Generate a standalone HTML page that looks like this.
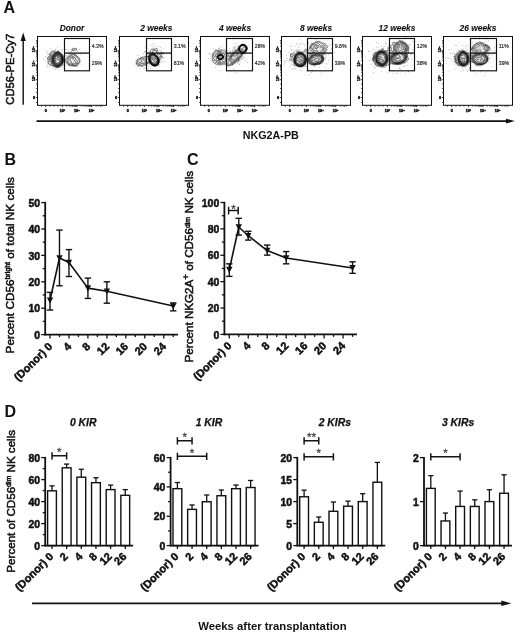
<!DOCTYPE html>
<html><head><meta charset="utf-8"><title>Figure</title><style>
html,body{margin:0;padding:0;background:#fff;}
body{width:520px;height:633px;overflow:hidden;}
svg{display:block;will-change:transform;}
text{font-family:"Liberation Sans", sans-serif;fill:#111;}
.pl{font-size:16px;font-weight:bold;}
.ft{font-size:8.4px;font-weight:bold;font-style:italic;text-anchor:middle;stroke:#111;stroke-width:0.1px;}
.bt{font-size:10.4px;font-weight:bold;font-style:italic;stroke:#111;stroke-width:0.25px;}
.pc{font-size:5.2px;fill:#222;stroke:#222;stroke-width:0.15px;}
.tl{font-size:3.7px;font-weight:bold;fill:#111;stroke:#111;stroke-width:0.4px;}
.at{font-size:10.7px;stroke:#111;stroke-width:0.5px;}
.at2{font-size:10.8px;font-weight:bold;}
.sup{font-size:6.4px;}
.sup2{font-size:9px;}
.yl{font-size:10.4px;font-weight:bold;text-anchor:end;stroke:#111;stroke-width:0.5px;}
.xl{font-size:11px;font-weight:bold;text-anchor:end;stroke:#111;stroke-width:0.5px;}
.st{font-size:11.5px;fill:#444;text-anchor:middle;stroke:#444;stroke-width:0.3px;}
.ax{stroke:#111;stroke-width:1.8;}
.tk{stroke:#111;stroke-width:1.3;}
</style></head><body>
<svg width="520" height="633" viewBox="0 0 520 633">
<defs><filter id="blur" x="-50%" y="-50%" width="200%" height="200%"><feGaussianBlur stdDeviation="1.1"/></filter><filter id="speck" x="-50%" y="-50%" width="200%" height="200%"><feGaussianBlur in="SourceGraphic" stdDeviation="1.6" result="b"/><feTurbulence type="fractalNoise" baseFrequency="0.75" numOctaves="2" seed="7" result="n"/><feColorMatrix in="n" type="matrix" values="0 0 0 0 0  0 0 0 0 0  0 0 0 0 0  3.2 0 0 0 -1.0" result="na"/><feComposite in="b" in2="na" operator="in"/></filter></defs>
<rect width="520" height="633" fill="#fff"/>
<text x="3.6" y="12.6" class="pl">A</text>
<text x="4.5" y="165.3" class="pl">B</text>
<text x="186.9" y="165.2" class="pl">C</text>
<text x="4.4" y="417.1" class="pl">D</text>
<line x1="23.2" y1="104.7" x2="23.2" y2="39" stroke="#111" stroke-width="1.4"/>
<polygon points="20.6,40.9 25.8,40.9 23.2,32.4" fill="#111"/>
<text x="0" y="0" class="at" style="font-size:11.2px;stroke-width:0.55px" transform="translate(13.8 69.3) rotate(-90)" text-anchor="middle" textLength="70.8" lengthAdjust="spacingAndGlyphs">CD56-PE-Cy7</text>
<line x1="36.5" y1="121.1" x2="507" y2="121.1" stroke="#111" stroke-width="1.8"/>
<polygon points="506,118.8 506,123.4 514.8,121.1" fill="#111"/>
<text x="242.8" y="138.6" class="at2" textLength="56" lengthAdjust="spacingAndGlyphs">NKG2A-PB</text>
<text x="72.00" y="30.6" class="ft">Donor</text>
<ellipse cx="55.5" cy="59.5" rx="7.5" ry="8.5" fill="#b0b0b0" filter="url(#speck)" transform="rotate(0 55.5 59.5)"/><ellipse cx="72.5" cy="60.5" rx="7" ry="6" fill="#d0d0d0" filter="url(#speck)" transform="rotate(0 72.5 60.5)"/><g fill="#555"><circle cx="57.8" cy="50.6" r="0.35"/><circle cx="58.0" cy="50.7" r="0.35"/><circle cx="64.3" cy="57.3" r="0.35"/><circle cx="64.4" cy="61.7" r="0.35"/><circle cx="50.5" cy="64.8" r="0.35"/><circle cx="67.7" cy="49.8" r="0.35"/><circle cx="73.2" cy="65.3" r="0.35"/><circle cx="55.5" cy="69.7" r="0.35"/><circle cx="57.6" cy="52.0" r="0.35"/><circle cx="53.6" cy="51.2" r="0.35"/><circle cx="48.2" cy="54.0" r="0.35"/><circle cx="77.7" cy="63.3" r="0.35"/><circle cx="66.7" cy="49.2" r="0.35"/><circle cx="74.8" cy="55.2" r="0.35"/><circle cx="71.3" cy="55.0" r="0.35"/><circle cx="56.4" cy="68.5" r="0.35"/><circle cx="47.6" cy="53.3" r="0.35"/><circle cx="65.3" cy="60.2" r="0.35"/><circle cx="51.3" cy="64.0" r="0.35"/><circle cx="62.8" cy="49.3" r="0.35"/><circle cx="75.9" cy="66.3" r="0.35"/><circle cx="77.8" cy="57.6" r="0.35"/><circle cx="77.2" cy="66.6" r="0.35"/><circle cx="77.0" cy="55.9" r="0.35"/><circle cx="60.0" cy="67.7" r="0.35"/><circle cx="64.2" cy="67.7" r="0.35"/><circle cx="69.2" cy="52.0" r="0.35"/><circle cx="70.4" cy="49.7" r="0.35"/><circle cx="77.4" cy="51.4" r="0.35"/><circle cx="66.2" cy="55.9" r="0.35"/><circle cx="62.3" cy="67.1" r="0.35"/><circle cx="45.9" cy="51.0" r="0.35"/><circle cx="80.0" cy="64.5" r="0.35"/><circle cx="68.4" cy="51.2" r="0.35"/><circle cx="72.7" cy="49.2" r="0.35"/><circle cx="74.2" cy="50.7" r="0.35"/><circle cx="79.1" cy="49.7" r="0.35"/><circle cx="49.5" cy="54.7" r="0.35"/><circle cx="77.2" cy="56.5" r="0.35"/><circle cx="47.3" cy="65.2" r="0.35"/><circle cx="71.7" cy="51.1" r="0.35"/><circle cx="63.3" cy="65.2" r="0.35"/><circle cx="72.1" cy="54.6" r="0.35"/><circle cx="74.3" cy="66.0" r="0.35"/><circle cx="61.8" cy="49.6" r="0.35"/><circle cx="47.9" cy="58.8" r="0.35"/><circle cx="47.3" cy="58.6" r="0.35"/><circle cx="58.0" cy="51.7" r="0.35"/><circle cx="71.3" cy="51.4" r="0.35"/><circle cx="69.3" cy="64.5" r="0.35"/><circle cx="60.2" cy="66.0" r="0.35"/><circle cx="74.5" cy="54.8" r="0.35"/><circle cx="72.9" cy="65.8" r="0.35"/><circle cx="66.0" cy="55.8" r="0.35"/><circle cx="50.2" cy="48.8" r="0.35"/><circle cx="58.6" cy="52.1" r="0.35"/><circle cx="48.1" cy="62.8" r="0.35"/><circle cx="68.7" cy="64.9" r="0.35"/><circle cx="63.0" cy="65.2" r="0.35"/><circle cx="62.3" cy="51.8" r="0.35"/><circle cx="79.9" cy="58.5" r="0.35"/><circle cx="79.9" cy="49.8" r="0.35"/><circle cx="75.8" cy="54.0" r="0.35"/><circle cx="76.1" cy="48.1" r="0.35"/><circle cx="80.2" cy="54.2" r="0.35"/><circle cx="78.0" cy="63.2" r="0.35"/><circle cx="47.4" cy="62.3" r="0.35"/><circle cx="72.0" cy="50.8" r="0.35"/><circle cx="68.0" cy="64.2" r="0.35"/><circle cx="43.2" cy="59.0" r="0.35"/><circle cx="76.4" cy="49.6" r="0.35"/><circle cx="49.9" cy="61.7" r="0.35"/><circle cx="73.0" cy="48.1" r="0.35"/><circle cx="72.1" cy="48.1" r="0.35"/><circle cx="47.8" cy="62.8" r="0.35"/><circle cx="79.8" cy="58.4" r="0.35"/><circle cx="72.8" cy="65.3" r="0.35"/><circle cx="65.0" cy="60.7" r="0.35"/><circle cx="63.6" cy="61.7" r="0.35"/><circle cx="63.5" cy="61.3" r="0.35"/><circle cx="59.1" cy="52.1" r="0.35"/><circle cx="67.4" cy="57.0" r="0.35"/><circle cx="68.1" cy="56.5" r="0.35"/><circle cx="55.2" cy="49.6" r="0.35"/><circle cx="70.5" cy="52.2" r="0.35"/><circle cx="47.7" cy="51.8" r="0.35"/><circle cx="64.0" cy="61.0" r="0.35"/><circle cx="73.7" cy="48.2" r="0.35"/><circle cx="48.7" cy="57.0" r="0.35"/><circle cx="75.9" cy="55.0" r="0.35"/><circle cx="45.2" cy="57.1" r="0.35"/><circle cx="55.2" cy="50.5" r="0.35"/><circle cx="74.2" cy="49.5" r="0.35"/><circle cx="73.0" cy="54.8" r="0.35"/><circle cx="69.8" cy="56.4" r="0.35"/><circle cx="57.2" cy="47.1" r="0.35"/><circle cx="74.0" cy="54.4" r="0.35"/><circle cx="75.3" cy="48.8" r="0.35"/><circle cx="79.0" cy="63.7" r="0.35"/><circle cx="51.8" cy="50.5" r="0.35"/><circle cx="74.0" cy="66.5" r="0.35"/><circle cx="65.2" cy="49.3" r="0.35"/><circle cx="69.9" cy="65.0" r="0.35"/><circle cx="50.8" cy="65.5" r="0.35"/><circle cx="74.0" cy="49.0" r="0.35"/><circle cx="53.5" cy="65.7" r="0.35"/><circle cx="74.4" cy="65.8" r="0.35"/><circle cx="45.1" cy="60.5" r="0.35"/><circle cx="69.0" cy="65.2" r="0.35"/><circle cx="74.8" cy="53.7" r="0.35"/><circle cx="49.3" cy="61.8" r="0.35"/><circle cx="47.2" cy="59.5" r="0.35"/><circle cx="50.9" cy="63.7" r="0.35"/><circle cx="48.6" cy="63.5" r="0.35"/><circle cx="48.1" cy="59.2" r="0.35"/><circle cx="45.5" cy="67.0" r="0.35"/><circle cx="47.7" cy="67.1" r="0.35"/><circle cx="67.2" cy="63.2" r="0.35"/><circle cx="45.3" cy="56.3" r="0.35"/><circle cx="58.8" cy="69.9" r="0.35"/></g><path fill="none" stroke="#000" stroke-width="0.45" d="M59.5 59.8 58.8 59.8 57.8 59.2 56.5 59.4 55.4 58.2 55.4 57.8 55.5 57.2 56.0 56.9 56.5 56.9 58.9 58.0 59.4 58.5 59.7 59.0 59.5 59.8Z M58.2 63.3 57.5 63.5 56.5 63.1 55.9 62.5 55.4 61.2 54.7 58.5 54.6 57.8 55.1 56.8 56.0 56.1 57.2 56.1 59.0 56.5 60.0 57.2 60.4 58.0 60.7 59.5 60.6 60.2 60.2 60.7 59.1 61.5 58.6 62.8 58.2 63.3Z M58.5 63.8 57.2 63.9 56.2 63.6 55.4 62.8 54.8 61.5 54.1 58.5 54.2 57.8 55.0 56.2 56.0 55.6 57.8 55.5 59.0 55.7 60.2 56.5 60.8 57.5 61.2 59.5 61.1 60.5 59.6 62.0 59.1 63.2 58.5 63.8Z M58.2 64.3 57.2 64.4 56.5 64.2 55.8 63.8 55.0 63.0 54.3 61.5 53.7 58.5 53.9 57.2 55.0 55.8 56.0 55.2 57.8 54.9 59.2 55.3 60.8 56.4 61.2 57.2 61.5 59.8 61.4 60.8 60.1 62.2 59.5 63.5 59.0 64.0 58.2 64.3Z M57.5 64.8 56.8 64.7 56.0 64.4 54.4 62.8 53.8 61.2 53.4 58.2 53.8 56.8 54.8 55.5 56.0 54.8 58.0 54.4 59.5 54.9 61.1 56.2 61.6 57.5 61.8 60.0 61.6 61.0 60.7 62.2 59.9 63.8 59.0 64.4 57.5 64.8Z M58.2 65.0 57.2 65.2 56.2 65.0 55.2 64.3 54.3 63.2 53.6 61.5 53.0 58.5 53.3 57.0 54.5 55.3 56.0 54.4 57.8 54.0 59.2 54.4 60.5 55.2 61.3 56.0 61.8 57.2 62.1 60.0 61.9 61.0 60.4 63.8 59.5 64.5 58.2 65.0Z M57.5 65.5 56.5 65.4 55.8 65.1 53.9 63.2 53.1 61.0 52.7 58.2 53.1 56.8 54.2 55.1 55.8 54.1 57.8 53.6 58.8 53.8 59.5 54.2 61.4 55.8 62.0 57.0 62.3 60.2 62.0 61.2 60.7 64.0 59.0 65.1 57.5 65.5Z M58.0 65.8 57.0 65.9 56.0 65.6 55.0 64.9 53.9 63.8 53.4 63.0 52.8 61.2 52.4 58.5 52.7 57.0 53.8 55.0 55.5 53.9 57.8 53.3 59.5 53.8 61.6 55.5 62.2 56.8 62.5 60.0 62.4 61.0 61.1 64.0 59.5 65.2 58.0 65.8Z M58.2 66.1 57.0 66.2 56.0 65.9 55.0 65.3 53.7 64.0 53.2 63.2 52.6 61.5 52.0 58.5 52.3 57.0 53.5 54.8 55.2 53.6 57.5 53.0 58.5 53.1 59.2 53.4 61.7 55.2 62.4 56.8 62.7 59.8 62.6 61.0 61.5 64.0 59.8 65.4 58.2 66.1Z M58.5 66.3 57.0 66.5 55.8 66.1 54.8 65.5 53.3 64.0 52.8 63.2 52.1 61.0 51.5 58.2 51.7 57.5 52.6 55.5 53.3 54.5 55.2 53.3 57.8 52.7 58.8 52.8 59.8 53.3 62.0 55.2 62.6 56.8 62.9 60.0 62.9 61.0 61.7 64.2 59.5 65.8 58.5 66.3Z M75.0 64.0 73.8 63.5 72.0 63.7 71.4 63.5 71.2 63.0 71.2 61.2 70.2 60.9 70.0 60.4 69.8 59.5 70.2 58.8 71.5 58.0 72.5 58.1 73.5 58.5 73.9 60.0 75.0 61.1 75.5 62.0 75.5 63.5 75.2 63.9 75.0 64.0Z M57.8 66.8 56.5 66.7 55.2 66.2 54.3 65.5 52.8 64.0 50.4 58.0 50.5 57.5 51.7 56.2 52.3 54.8 52.8 54.3 55.2 52.9 58.0 52.4 59.0 52.6 60.0 53.2 61.8 54.6 62.4 55.5 62.9 57.0 63.2 60.5 62.3 63.8 61.8 64.5 59.2 66.3 57.8 66.8Z M75.8 64.9 74.8 64.9 73.2 64.3 71.2 64.5 68.5 62.6 68.1 62.0 68.0 61.0 68.3 59.2 68.7 58.5 70.8 56.9 71.2 56.7 73.0 57.3 74.8 57.3 75.2 57.5 75.6 59.5 76.2 60.2 77.3 60.8 77.6 61.2 76.8 62.5 76.3 64.5 75.8 64.9Z M58.2 67.0 57.0 67.1 55.5 66.6 51.9 64.2 51.6 63.8 51.4 62.2 49.8 60.5 49.2 57.2 51.0 55.8 50.9 53.8 51.5 53.1 57.5 52.0 58.5 52.1 59.8 52.6 61.5 54.0 62.2 54.8 62.9 55.8 63.2 57.0 63.4 60.8 62.4 64.2 62.0 64.8 59.5 66.5 58.2 67.0Z M75.8 65.5 74.5 65.5 73.2 65.1 71.5 65.2 70.8 65.1 69.0 64.2 67.5 62.8 66.7 60.5 66.8 59.8 67.9 58.0 69.5 57.0 70.6 55.5 71.5 55.5 73.0 56.4 73.8 56.3 74.5 55.6 76.2 56.2 76.8 56.8 77.4 58.0 78.2 58.8 79.2 60.6 79.5 61.5 79.2 62.1 77.7 63.0 77.0 65.0 76.5 65.4 75.8 65.5Z M73.0 50.5 72.1 50.5 71.6 50.0 71.9 49.5 73.0 48.9 75.2 48.5 76.2 48.8 77.0 49.2 76.9 49.8 76.0 50.2 73.0 50.5Z M59.0 67.3 58.2 67.5 57.0 67.5 54.8 66.8 53.0 65.7 51.2 65.3 49.8 64.7 49.1 64.2 48.8 63.8 48.6 62.2 48.0 60.8 48.3 59.2 47.6 58.0 47.6 57.5 48.2 56.8 49.8 55.5 50.0 55.0 49.9 53.5 50.2 52.8 52.8 51.1 53.8 51.1 55.2 52.0 56.1 52.0 57.8 51.6 58.8 51.7 60.0 52.4 62.0 54.0 62.9 55.0 63.6 56.2 63.6 59.2 64.0 60.7 64.2 61.0 65.2 60.0 67.5 57.0 69.0 55.9 69.4 54.5 70.0 54.1 72.2 54.6 73.8 54.2 75.0 54.4 77.0 55.8 79.3 58.5 80.1 61.0 80.0 62.0 79.5 62.9 78.3 63.8 77.7 65.2 77.0 65.8 75.8 66.0 71.5 65.9 69.0 65.1 68.2 64.6 66.0 62.0 64.6 61.5 64.2 61.0 63.2 62.3 62.9 64.2 62.6 64.8 59.0 67.3Z"/>
<rect x="37.50" y="36.5" width="69" height="68.80" fill="none" stroke="#111" stroke-width="1"/>
<rect x="64.50" y="38.5" width="25.00" height="32.3" fill="none" stroke="#111" stroke-width="1.15"/>
<line x1="64.50" y1="53.1" x2="89.50" y2="53.1" stroke="#111" stroke-width="1.3"/>
<text x="91.80" y="47.9" class="pc">4.3%</text>
<text x="91.80" y="65.0" class="pc">29%</text>
<line x1="35.70" y1="79.70" x2="37.50" y2="79.70" stroke="#111" stroke-width="0.8"/>
<line x1="36.20" y1="75.24" x2="37.50" y2="75.24" stroke="#111" stroke-width="0.8"/>
<line x1="36.20" y1="72.64" x2="37.50" y2="72.64" stroke="#111" stroke-width="0.8"/>
<line x1="36.20" y1="70.79" x2="37.50" y2="70.79" stroke="#111" stroke-width="0.8"/>
<line x1="36.20" y1="69.36" x2="37.50" y2="69.36" stroke="#111" stroke-width="0.8"/>
<line x1="36.20" y1="68.18" x2="37.50" y2="68.18" stroke="#111" stroke-width="0.8"/>
<line x1="36.20" y1="67.19" x2="37.50" y2="67.19" stroke="#111" stroke-width="0.8"/>
<line x1="36.20" y1="66.33" x2="37.50" y2="66.33" stroke="#111" stroke-width="0.8"/>
<line x1="36.20" y1="65.58" x2="37.50" y2="65.58" stroke="#111" stroke-width="0.8"/>
<line x1="35.70" y1="64.90" x2="37.50" y2="64.90" stroke="#111" stroke-width="0.8"/>
<line x1="36.20" y1="60.63" x2="37.50" y2="60.63" stroke="#111" stroke-width="0.8"/>
<line x1="36.20" y1="58.12" x2="37.50" y2="58.12" stroke="#111" stroke-width="0.8"/>
<line x1="36.20" y1="56.35" x2="37.50" y2="56.35" stroke="#111" stroke-width="0.8"/>
<line x1="36.20" y1="54.97" x2="37.50" y2="54.97" stroke="#111" stroke-width="0.8"/>
<line x1="36.20" y1="53.85" x2="37.50" y2="53.85" stroke="#111" stroke-width="0.8"/>
<line x1="36.20" y1="52.90" x2="37.50" y2="52.90" stroke="#111" stroke-width="0.8"/>
<line x1="36.20" y1="52.08" x2="37.50" y2="52.08" stroke="#111" stroke-width="0.8"/>
<line x1="36.20" y1="51.35" x2="37.50" y2="51.35" stroke="#111" stroke-width="0.8"/>
<line x1="35.70" y1="50.70" x2="37.50" y2="50.70" stroke="#111" stroke-width="0.8"/>
<line x1="36.20" y1="46.34" x2="37.50" y2="46.34" stroke="#111" stroke-width="0.8"/>
<line x1="36.20" y1="43.78" x2="37.50" y2="43.78" stroke="#111" stroke-width="0.8"/>
<line x1="36.20" y1="41.97" x2="37.50" y2="41.97" stroke="#111" stroke-width="0.8"/>
<line x1="36.20" y1="40.56" x2="37.50" y2="40.56" stroke="#111" stroke-width="0.8"/>
<line x1="35.70" y1="97.50" x2="37.50" y2="97.50" stroke="#111" stroke-width="0.8"/>
<line x1="36.20" y1="88.50" x2="37.50" y2="88.50" stroke="#111" stroke-width="0.8"/>
<line x1="36.20" y1="92.50" x2="37.50" y2="92.50" stroke="#111" stroke-width="0.8"/>
<line x1="36.20" y1="102.50" x2="37.50" y2="102.50" stroke="#111" stroke-width="0.8"/>
<line x1="36.20" y1="84.00" x2="37.50" y2="84.00" stroke="#111" stroke-width="0.8"/>
<line x1="62.30" y1="105.30" x2="62.30" y2="107.10" stroke="#111" stroke-width="0.8"/>
<line x1="66.70" y1="105.30" x2="66.70" y2="106.60" stroke="#111" stroke-width="0.8"/>
<line x1="69.27" y1="105.30" x2="69.27" y2="106.60" stroke="#111" stroke-width="0.8"/>
<line x1="71.09" y1="105.30" x2="71.09" y2="106.60" stroke="#111" stroke-width="0.8"/>
<line x1="72.50" y1="105.30" x2="72.50" y2="106.60" stroke="#111" stroke-width="0.8"/>
<line x1="73.66" y1="105.30" x2="73.66" y2="106.60" stroke="#111" stroke-width="0.8"/>
<line x1="74.64" y1="105.30" x2="74.64" y2="106.60" stroke="#111" stroke-width="0.8"/>
<line x1="75.49" y1="105.30" x2="75.49" y2="106.60" stroke="#111" stroke-width="0.8"/>
<line x1="76.23" y1="105.30" x2="76.23" y2="106.60" stroke="#111" stroke-width="0.8"/>
<line x1="76.90" y1="105.30" x2="76.90" y2="107.10" stroke="#111" stroke-width="0.8"/>
<line x1="81.36" y1="105.30" x2="81.36" y2="106.60" stroke="#111" stroke-width="0.8"/>
<line x1="83.96" y1="105.30" x2="83.96" y2="106.60" stroke="#111" stroke-width="0.8"/>
<line x1="85.81" y1="105.30" x2="85.81" y2="106.60" stroke="#111" stroke-width="0.8"/>
<line x1="87.24" y1="105.30" x2="87.24" y2="106.60" stroke="#111" stroke-width="0.8"/>
<line x1="88.42" y1="105.30" x2="88.42" y2="106.60" stroke="#111" stroke-width="0.8"/>
<line x1="89.41" y1="105.30" x2="89.41" y2="106.60" stroke="#111" stroke-width="0.8"/>
<line x1="90.27" y1="105.30" x2="90.27" y2="106.60" stroke="#111" stroke-width="0.8"/>
<line x1="91.02" y1="105.30" x2="91.02" y2="106.60" stroke="#111" stroke-width="0.8"/>
<line x1="91.70" y1="105.30" x2="91.70" y2="107.10" stroke="#111" stroke-width="0.8"/>
<line x1="96.16" y1="105.30" x2="96.16" y2="106.60" stroke="#111" stroke-width="0.8"/>
<line x1="98.76" y1="105.30" x2="98.76" y2="106.60" stroke="#111" stroke-width="0.8"/>
<line x1="100.61" y1="105.30" x2="100.61" y2="106.60" stroke="#111" stroke-width="0.8"/>
<line x1="102.04" y1="105.30" x2="102.04" y2="106.60" stroke="#111" stroke-width="0.8"/>
<line x1="45.70" y1="105.30" x2="45.70" y2="107.10" stroke="#111" stroke-width="0.8"/>
<line x1="41.50" y1="105.30" x2="41.50" y2="106.60" stroke="#111" stroke-width="0.8"/>
<line x1="50.00" y1="105.30" x2="50.00" y2="106.60" stroke="#111" stroke-width="0.8"/>
<line x1="54.00" y1="105.30" x2="54.00" y2="106.60" stroke="#111" stroke-width="0.8"/>
<line x1="58.00" y1="105.30" x2="58.00" y2="106.60" stroke="#111" stroke-width="0.8"/>
<text x="35.30" y="51.90" class="tl" transform="rotate(-90 33.90 50.70)" text-anchor="middle">10⁵</text>
<text x="35.30" y="66.10" class="tl" transform="rotate(-90 33.90 64.90)" text-anchor="middle">10⁴</text>
<text x="35.30" y="80.90" class="tl" transform="rotate(-90 33.90 79.70)" text-anchor="middle">10³</text>
<text x="34.10" y="98.80" class="tl" text-anchor="middle">0</text>
<text x="62.30" y="111.6" class="tl" text-anchor="middle">10³</text>
<text x="76.90" y="111.6" class="tl" text-anchor="middle">10⁴</text>
<text x="91.70" y="111.6" class="tl" text-anchor="middle">10⁵</text>
<text x="45.70" y="111.6" class="tl" text-anchor="middle">0</text>
<text x="156.30" y="30.6" class="ft">2 weeks</text>
<ellipse cx="152" cy="59" rx="8" ry="7" fill="#b8b8b8" filter="url(#speck)" transform="rotate(-20 152 59)"/><ellipse cx="141.5" cy="62" rx="4" ry="3.5" fill="#b0b0b0" filter="url(#speck)" transform="rotate(0 141.5 62)"/><g fill="#555"><circle cx="148.8" cy="48.8" r="0.35"/><circle cx="159.8" cy="64.8" r="0.35"/><circle cx="136.7" cy="63.7" r="0.35"/><circle cx="147.9" cy="45.0" r="0.35"/><circle cx="160.7" cy="47.6" r="0.35"/><circle cx="148.6" cy="56.8" r="0.35"/><circle cx="145.0" cy="64.5" r="0.35"/><circle cx="150.5" cy="51.8" r="0.35"/><circle cx="145.0" cy="52.8" r="0.35"/><circle cx="163.2" cy="61.3" r="0.35"/><circle cx="145.8" cy="46.8" r="0.35"/><circle cx="158.5" cy="64.2" r="0.35"/><circle cx="145.4" cy="67.6" r="0.35"/><circle cx="148.9" cy="63.5" r="0.35"/><circle cx="148.7" cy="68.6" r="0.35"/><circle cx="148.5" cy="57.1" r="0.35"/><circle cx="154.7" cy="50.1" r="0.35"/><circle cx="158.5" cy="64.0" r="0.35"/><circle cx="139.5" cy="68.5" r="0.35"/><circle cx="159.7" cy="62.4" r="0.35"/><circle cx="155.9" cy="48.6" r="0.35"/><circle cx="163.3" cy="52.8" r="0.35"/><circle cx="144.5" cy="51.1" r="0.35"/><circle cx="147.2" cy="62.4" r="0.35"/><circle cx="156.9" cy="50.0" r="0.35"/><circle cx="155.2" cy="46.0" r="0.35"/><circle cx="148.8" cy="56.5" r="0.35"/><circle cx="144.6" cy="56.8" r="0.35"/><circle cx="161.1" cy="56.3" r="0.35"/><circle cx="145.7" cy="57.8" r="0.35"/><circle cx="159.6" cy="59.9" r="0.35"/><circle cx="140.6" cy="57.9" r="0.35"/><circle cx="163.4" cy="53.9" r="0.35"/><circle cx="152.0" cy="45.2" r="0.35"/><circle cx="148.5" cy="61.2" r="0.35"/><circle cx="145.2" cy="51.7" r="0.35"/><circle cx="153.2" cy="48.0" r="0.35"/><circle cx="135.3" cy="63.5" r="0.35"/><circle cx="153.1" cy="49.8" r="0.35"/><circle cx="140.2" cy="65.5" r="0.35"/><circle cx="163.0" cy="53.6" r="0.35"/><circle cx="159.4" cy="66.5" r="0.35"/><circle cx="143.4" cy="68.7" r="0.35"/><circle cx="144.7" cy="68.3" r="0.35"/><circle cx="147.8" cy="63.4" r="0.35"/><circle cx="144.6" cy="51.8" r="0.35"/><circle cx="135.7" cy="61.3" r="0.35"/><circle cx="145.0" cy="57.5" r="0.35"/><circle cx="146.5" cy="61.0" r="0.35"/><circle cx="159.4" cy="53.7" r="0.35"/><circle cx="162.7" cy="57.9" r="0.35"/><circle cx="147.7" cy="56.2" r="0.35"/><circle cx="163.9" cy="54.2" r="0.35"/><circle cx="160.7" cy="54.3" r="0.35"/><circle cx="148.7" cy="60.4" r="0.35"/><circle cx="148.0" cy="53.3" r="0.35"/><circle cx="162.7" cy="56.5" r="0.35"/><circle cx="160.6" cy="56.9" r="0.35"/><circle cx="154.9" cy="50.1" r="0.35"/><circle cx="148.3" cy="61.8" r="0.35"/><circle cx="137.5" cy="61.3" r="0.35"/><circle cx="136.6" cy="62.5" r="0.35"/><circle cx="161.5" cy="57.0" r="0.35"/><circle cx="162.2" cy="62.0" r="0.35"/><circle cx="141.0" cy="58.2" r="0.35"/><circle cx="163.1" cy="48.5" r="0.35"/><circle cx="149.9" cy="51.0" r="0.35"/><circle cx="149.7" cy="63.3" r="0.35"/><circle cx="146.5" cy="58.7" r="0.35"/><circle cx="137.9" cy="66.1" r="0.35"/><circle cx="153.7" cy="47.1" r="0.35"/><circle cx="158.2" cy="64.4" r="0.35"/><circle cx="147.5" cy="56.6" r="0.35"/><circle cx="158.1" cy="46.6" r="0.35"/><circle cx="143.2" cy="53.7" r="0.35"/><circle cx="160.7" cy="59.8" r="0.35"/><circle cx="162.7" cy="52.8" r="0.35"/><circle cx="151.3" cy="64.6" r="0.35"/><circle cx="161.7" cy="57.7" r="0.35"/><circle cx="162.9" cy="53.0" r="0.35"/><circle cx="150.8" cy="68.9" r="0.35"/><circle cx="147.9" cy="68.8" r="0.35"/><circle cx="161.8" cy="52.7" r="0.35"/><circle cx="140.0" cy="58.3" r="0.35"/><circle cx="154.6" cy="49.9" r="0.35"/><circle cx="163.3" cy="57.8" r="0.35"/><circle cx="146.0" cy="57.6" r="0.35"/><circle cx="138.8" cy="55.6" r="0.35"/><circle cx="146.9" cy="52.5" r="0.35"/><circle cx="160.0" cy="50.2" r="0.35"/><circle cx="153.8" cy="43.5" r="0.35"/><circle cx="161.4" cy="60.2" r="0.35"/><circle cx="163.9" cy="58.0" r="0.35"/><circle cx="152.0" cy="52.3" r="0.35"/><circle cx="137.0" cy="55.1" r="0.35"/><circle cx="149.6" cy="62.5" r="0.35"/><circle cx="147.7" cy="61.6" r="0.35"/><circle cx="151.7" cy="65.5" r="0.35"/><circle cx="157.8" cy="50.4" r="0.35"/><circle cx="157.4" cy="48.0" r="0.35"/><circle cx="158.8" cy="65.4" r="0.35"/><circle cx="138.4" cy="57.6" r="0.35"/><circle cx="160.6" cy="54.0" r="0.35"/><circle cx="136.0" cy="64.8" r="0.35"/><circle cx="148.3" cy="62.8" r="0.35"/><circle cx="165.1" cy="61.4" r="0.35"/><circle cx="161.7" cy="51.0" r="0.35"/><circle cx="161.3" cy="54.3" r="0.35"/><circle cx="138.0" cy="66.5" r="0.35"/><circle cx="152.0" cy="44.9" r="0.35"/><circle cx="160.0" cy="62.7" r="0.35"/><circle cx="157.6" cy="65.3" r="0.35"/><circle cx="136.3" cy="63.3" r="0.35"/><circle cx="137.2" cy="61.4" r="0.35"/><circle cx="145.7" cy="64.2" r="0.35"/><circle cx="151.9" cy="48.6" r="0.35"/><circle cx="149.7" cy="52.6" r="0.35"/><circle cx="152.2" cy="52.3" r="0.35"/><circle cx="146.2" cy="58.5" r="0.35"/><circle cx="149.2" cy="55.5" r="0.35"/></g><path fill="none" stroke="#000" stroke-width="0.45" d="M153.8 60.1 153.0 60.1 152.3 59.5 152.5 58.8 153.2 58.2 154.0 58.1 155.0 58.3 155.8 58.3 156.3 58.5 156.7 59.0 156.5 59.7 155.2 59.1 154.8 59.1 153.8 60.1Z M154.8 63.3 154.2 63.3 153.9 63.0 153.7 62.5 153.8 62.0 154.2 61.5 155.8 61.0 156.2 61.0 156.0 61.9 155.2 63.0 154.8 63.3Z M155.2 64.0 154.2 64.1 153.2 63.5 151.5 61.3 151.1 60.2 151.0 59.2 151.2 58.7 153.8 56.3 154.2 56.4 156.5 57.9 157.1 58.5 157.3 59.2 157.3 60.5 156.9 61.8 155.9 63.5 155.2 64.0Z M154.8 64.5 153.8 64.3 152.6 63.5 151.2 61.8 150.6 60.2 150.5 59.0 150.7 58.2 151.7 57.0 152.2 55.8 153.0 55.4 154.0 55.5 154.8 55.9 157.0 57.9 157.6 59.2 157.6 61.0 156.9 62.8 156.0 64.0 154.8 64.5Z M155.0 64.8 153.8 64.6 152.7 64.0 151.1 62.2 150.4 60.8 150.1 59.0 150.2 57.9 151.4 55.8 152.5 55.0 153.8 55.0 154.8 55.5 157.1 57.8 157.8 59.0 157.9 61.0 157.2 63.0 156.3 64.2 155.0 64.8Z M154.8 65.0 153.2 64.6 152.1 63.8 150.7 62.0 150.1 60.5 149.8 58.8 150.0 57.4 151.1 55.5 152.2 54.7 153.8 54.8 155.0 55.3 157.2 57.6 158.0 59.0 158.1 61.0 157.4 63.2 156.9 64.0 156.2 64.6 154.8 65.0Z M155.8 65.0 154.2 65.2 152.8 64.5 151.1 63.0 150.1 61.2 149.6 59.0 149.7 57.5 150.7 55.5 152.0 54.6 153.5 54.5 155.0 55.0 157.2 57.2 158.1 58.8 158.3 60.5 157.8 62.8 157.0 64.2 155.8 65.0Z M155.5 65.3 154.0 65.3 152.5 64.6 150.9 63.0 149.8 61.0 149.4 58.5 149.6 57.0 150.6 55.2 152.0 54.3 153.8 54.3 155.2 55.0 157.4 57.2 158.2 58.8 158.4 61.0 157.9 63.2 157.0 64.5 155.5 65.3Z M156.0 65.3 154.2 65.5 152.8 64.9 151.1 63.5 149.9 61.5 149.2 58.8 149.3 57.2 150.3 55.2 151.8 54.2 153.5 54.1 155.0 54.6 157.2 56.8 158.2 58.2 158.6 60.5 158.2 63.0 157.3 64.5 156.0 65.3Z M155.8 65.5 154.0 65.6 152.5 64.9 150.6 63.0 149.6 61.2 149.1 58.8 149.1 57.2 150.1 55.2 151.5 54.1 152.2 53.9 153.2 53.9 154.2 54.1 155.2 54.5 157.4 56.8 158.4 58.5 158.7 59.8 158.7 61.0 158.1 63.5 157.2 64.8 155.8 65.5Z M155.0 65.8 153.5 65.6 152.0 64.7 150.4 63.0 149.4 61.0 148.9 58.5 149.1 56.8 150.2 54.8 151.0 54.1 151.8 53.8 153.2 53.7 154.2 53.9 155.2 54.3 157.4 56.5 158.2 57.8 158.6 58.8 158.8 61.2 158.6 62.5 158.1 64.0 157.5 64.7 156.8 65.3 156.0 65.6 155.0 65.8Z M155.8 65.8 154.5 65.9 153.5 65.7 152.0 64.8 150.4 63.2 149.3 61.2 148.6 58.2 148.8 57.0 149.8 55.0 150.8 54.0 151.5 53.6 153.0 53.4 154.5 53.6 155.2 53.9 156.0 54.5 157.7 56.5 158.6 58.2 158.9 59.5 159.0 61.0 158.4 63.8 157.9 64.5 157.2 65.2 155.8 65.8Z M139.5 64.3 138.7 64.0 138.7 63.5 139.5 62.9 140.8 62.8 141.0 62.6 141.7 59.5 142.2 58.9 142.8 58.9 143.4 59.2 144.2 60.7 145.5 61.8 145.6 62.2 145.2 62.8 142.5 63.5 141.2 63.5 140.5 64.0 139.5 64.3Z M155.0 66.0 154.0 65.9 153.0 65.6 151.5 64.6 150.6 63.8 149.3 61.8 148.5 59.0 148.1 58.2 149.1 55.8 150.1 54.2 151.2 53.3 153.0 52.8 153.2 52.5 153.1 51.8 152.4 50.8 152.4 50.5 152.8 50.2 156.0 50.4 156.4 51.0 156.7 52.5 157.5 54.8 157.8 54.9 158.2 55.0 159.5 54.4 160.0 54.4 160.4 54.8 160.6 55.2 160.5 56.5 160.2 56.8 159.1 57.0 158.9 57.2 159.1 61.0 158.9 62.5 158.4 64.0 157.8 64.9 156.8 65.6 156.0 65.9 155.0 66.0Z M142.2 65.8 141.8 65.8 140.5 65.2 138.2 65.1 137.5 64.4 137.3 63.5 138.0 62.0 137.8 60.8 138.0 60.3 139.8 59.6 141.5 58.2 142.8 57.9 144.2 58.4 145.4 59.0 146.6 62.2 146.3 63.0 145.8 63.7 145.2 64.0 143.5 64.2 142.2 65.8Z M142.2 66.5 141.5 66.4 140.2 65.8 138.2 65.8 137.2 65.1 136.7 64.2 136.6 63.5 136.8 61.8 136.4 60.5 136.8 59.7 139.5 58.6 142.2 57.2 143.8 57.1 145.0 56.7 146.8 57.0 148.2 56.4 149.0 55.3 150.8 50.2 151.5 49.5 152.2 49.1 155.0 49.1 157.0 48.7 157.2 49.2 157.5 52.0 158.0 53.1 158.5 53.4 160.0 53.0 161.2 52.2 161.8 52.4 162.0 53.0 161.6 55.5 161.8 57.5 161.2 58.1 160.2 58.4 159.9 58.8 158.7 63.8 158.1 64.8 157.5 65.3 155.8 66.1 154.5 66.1 153.5 65.9 151.5 64.8 149.5 62.8 148.2 62.6 147.8 62.7 147.2 63.1 145.8 65.4 145.2 65.5 144.1 65.2 143.0 66.2 142.2 66.5Z"/>
<rect x="119.50" y="36.5" width="69" height="68.80" fill="none" stroke="#111" stroke-width="1"/>
<rect x="146.50" y="38.5" width="25.00" height="32.3" fill="none" stroke="#111" stroke-width="1.15"/>
<line x1="146.50" y1="53.1" x2="171.50" y2="53.1" stroke="#111" stroke-width="1.3"/>
<text x="173.80" y="47.9" class="pc">3.1%</text>
<text x="173.80" y="65.0" class="pc">81%</text>
<line x1="117.70" y1="79.70" x2="119.50" y2="79.70" stroke="#111" stroke-width="0.8"/>
<line x1="118.20" y1="75.24" x2="119.50" y2="75.24" stroke="#111" stroke-width="0.8"/>
<line x1="118.20" y1="72.64" x2="119.50" y2="72.64" stroke="#111" stroke-width="0.8"/>
<line x1="118.20" y1="70.79" x2="119.50" y2="70.79" stroke="#111" stroke-width="0.8"/>
<line x1="118.20" y1="69.36" x2="119.50" y2="69.36" stroke="#111" stroke-width="0.8"/>
<line x1="118.20" y1="68.18" x2="119.50" y2="68.18" stroke="#111" stroke-width="0.8"/>
<line x1="118.20" y1="67.19" x2="119.50" y2="67.19" stroke="#111" stroke-width="0.8"/>
<line x1="118.20" y1="66.33" x2="119.50" y2="66.33" stroke="#111" stroke-width="0.8"/>
<line x1="118.20" y1="65.58" x2="119.50" y2="65.58" stroke="#111" stroke-width="0.8"/>
<line x1="117.70" y1="64.90" x2="119.50" y2="64.90" stroke="#111" stroke-width="0.8"/>
<line x1="118.20" y1="60.63" x2="119.50" y2="60.63" stroke="#111" stroke-width="0.8"/>
<line x1="118.20" y1="58.12" x2="119.50" y2="58.12" stroke="#111" stroke-width="0.8"/>
<line x1="118.20" y1="56.35" x2="119.50" y2="56.35" stroke="#111" stroke-width="0.8"/>
<line x1="118.20" y1="54.97" x2="119.50" y2="54.97" stroke="#111" stroke-width="0.8"/>
<line x1="118.20" y1="53.85" x2="119.50" y2="53.85" stroke="#111" stroke-width="0.8"/>
<line x1="118.20" y1="52.90" x2="119.50" y2="52.90" stroke="#111" stroke-width="0.8"/>
<line x1="118.20" y1="52.08" x2="119.50" y2="52.08" stroke="#111" stroke-width="0.8"/>
<line x1="118.20" y1="51.35" x2="119.50" y2="51.35" stroke="#111" stroke-width="0.8"/>
<line x1="117.70" y1="50.70" x2="119.50" y2="50.70" stroke="#111" stroke-width="0.8"/>
<line x1="118.20" y1="46.34" x2="119.50" y2="46.34" stroke="#111" stroke-width="0.8"/>
<line x1="118.20" y1="43.78" x2="119.50" y2="43.78" stroke="#111" stroke-width="0.8"/>
<line x1="118.20" y1="41.97" x2="119.50" y2="41.97" stroke="#111" stroke-width="0.8"/>
<line x1="118.20" y1="40.56" x2="119.50" y2="40.56" stroke="#111" stroke-width="0.8"/>
<line x1="117.70" y1="97.50" x2="119.50" y2="97.50" stroke="#111" stroke-width="0.8"/>
<line x1="118.20" y1="88.50" x2="119.50" y2="88.50" stroke="#111" stroke-width="0.8"/>
<line x1="118.20" y1="92.50" x2="119.50" y2="92.50" stroke="#111" stroke-width="0.8"/>
<line x1="118.20" y1="102.50" x2="119.50" y2="102.50" stroke="#111" stroke-width="0.8"/>
<line x1="118.20" y1="84.00" x2="119.50" y2="84.00" stroke="#111" stroke-width="0.8"/>
<line x1="144.30" y1="105.30" x2="144.30" y2="107.10" stroke="#111" stroke-width="0.8"/>
<line x1="148.70" y1="105.30" x2="148.70" y2="106.60" stroke="#111" stroke-width="0.8"/>
<line x1="151.27" y1="105.30" x2="151.27" y2="106.60" stroke="#111" stroke-width="0.8"/>
<line x1="153.09" y1="105.30" x2="153.09" y2="106.60" stroke="#111" stroke-width="0.8"/>
<line x1="154.50" y1="105.30" x2="154.50" y2="106.60" stroke="#111" stroke-width="0.8"/>
<line x1="155.66" y1="105.30" x2="155.66" y2="106.60" stroke="#111" stroke-width="0.8"/>
<line x1="156.64" y1="105.30" x2="156.64" y2="106.60" stroke="#111" stroke-width="0.8"/>
<line x1="157.49" y1="105.30" x2="157.49" y2="106.60" stroke="#111" stroke-width="0.8"/>
<line x1="158.23" y1="105.30" x2="158.23" y2="106.60" stroke="#111" stroke-width="0.8"/>
<line x1="158.90" y1="105.30" x2="158.90" y2="107.10" stroke="#111" stroke-width="0.8"/>
<line x1="163.36" y1="105.30" x2="163.36" y2="106.60" stroke="#111" stroke-width="0.8"/>
<line x1="165.96" y1="105.30" x2="165.96" y2="106.60" stroke="#111" stroke-width="0.8"/>
<line x1="167.81" y1="105.30" x2="167.81" y2="106.60" stroke="#111" stroke-width="0.8"/>
<line x1="169.24" y1="105.30" x2="169.24" y2="106.60" stroke="#111" stroke-width="0.8"/>
<line x1="170.42" y1="105.30" x2="170.42" y2="106.60" stroke="#111" stroke-width="0.8"/>
<line x1="171.41" y1="105.30" x2="171.41" y2="106.60" stroke="#111" stroke-width="0.8"/>
<line x1="172.27" y1="105.30" x2="172.27" y2="106.60" stroke="#111" stroke-width="0.8"/>
<line x1="173.02" y1="105.30" x2="173.02" y2="106.60" stroke="#111" stroke-width="0.8"/>
<line x1="173.70" y1="105.30" x2="173.70" y2="107.10" stroke="#111" stroke-width="0.8"/>
<line x1="178.16" y1="105.30" x2="178.16" y2="106.60" stroke="#111" stroke-width="0.8"/>
<line x1="180.76" y1="105.30" x2="180.76" y2="106.60" stroke="#111" stroke-width="0.8"/>
<line x1="182.61" y1="105.30" x2="182.61" y2="106.60" stroke="#111" stroke-width="0.8"/>
<line x1="184.04" y1="105.30" x2="184.04" y2="106.60" stroke="#111" stroke-width="0.8"/>
<line x1="127.70" y1="105.30" x2="127.70" y2="107.10" stroke="#111" stroke-width="0.8"/>
<line x1="123.50" y1="105.30" x2="123.50" y2="106.60" stroke="#111" stroke-width="0.8"/>
<line x1="132.00" y1="105.30" x2="132.00" y2="106.60" stroke="#111" stroke-width="0.8"/>
<line x1="136.00" y1="105.30" x2="136.00" y2="106.60" stroke="#111" stroke-width="0.8"/>
<line x1="140.00" y1="105.30" x2="140.00" y2="106.60" stroke="#111" stroke-width="0.8"/>
<text x="117.30" y="51.90" class="tl" transform="rotate(-90 115.90 50.70)" text-anchor="middle">10⁵</text>
<text x="117.30" y="66.10" class="tl" transform="rotate(-90 115.90 64.90)" text-anchor="middle">10⁴</text>
<text x="117.30" y="80.90" class="tl" transform="rotate(-90 115.90 79.70)" text-anchor="middle">10³</text>
<text x="116.10" y="98.80" class="tl" text-anchor="middle">0</text>
<text x="144.30" y="111.6" class="tl" text-anchor="middle">10³</text>
<text x="158.90" y="111.6" class="tl" text-anchor="middle">10⁴</text>
<text x="173.70" y="111.6" class="tl" text-anchor="middle">10⁵</text>
<text x="127.70" y="111.6" class="tl" text-anchor="middle">0</text>
<text x="235.00" y="30.6" class="ft">4 weeks</text>
<ellipse cx="219.5" cy="57.5" rx="7" ry="7" fill="#b8b8b8" filter="url(#speck)" transform="rotate(0 219.5 57.5)"/><ellipse cx="236" cy="56" rx="9" ry="7" fill="#c0c0c0" filter="url(#speck)" transform="rotate(-40 236 56)"/><g fill="#555"><circle cx="238.5" cy="45.2" r="0.35"/><circle cx="219.2" cy="48.6" r="0.35"/><circle cx="229.7" cy="48.3" r="0.35"/><circle cx="213.8" cy="60.4" r="0.35"/><circle cx="229.0" cy="55.2" r="0.35"/><circle cx="235.7" cy="73.0" r="0.35"/><circle cx="228.3" cy="56.6" r="0.35"/><circle cx="218.6" cy="49.0" r="0.35"/><circle cx="242.5" cy="44.0" r="0.35"/><circle cx="217.3" cy="63.1" r="0.35"/><circle cx="227.6" cy="56.2" r="0.35"/><circle cx="238.8" cy="60.5" r="0.35"/><circle cx="220.5" cy="51.0" r="0.35"/><circle cx="238.5" cy="48.2" r="0.35"/><circle cx="235.2" cy="50.8" r="0.35"/><circle cx="223.9" cy="63.2" r="0.35"/><circle cx="232.3" cy="64.8" r="0.35"/><circle cx="217.0" cy="64.6" r="0.35"/><circle cx="221.2" cy="49.8" r="0.35"/><circle cx="226.8" cy="66.5" r="0.35"/><circle cx="217.3" cy="65.6" r="0.35"/><circle cx="221.9" cy="49.3" r="0.35"/><circle cx="233.7" cy="70.0" r="0.35"/><circle cx="233.3" cy="63.8" r="0.35"/><circle cx="215.7" cy="49.7" r="0.35"/><circle cx="237.0" cy="46.3" r="0.35"/><circle cx="230.2" cy="56.2" r="0.35"/><circle cx="216.5" cy="61.4" r="0.35"/><circle cx="212.4" cy="56.8" r="0.35"/><circle cx="230.3" cy="69.9" r="0.35"/><circle cx="218.8" cy="63.2" r="0.35"/><circle cx="218.8" cy="48.7" r="0.35"/><circle cx="239.7" cy="64.5" r="0.35"/><circle cx="238.7" cy="60.9" r="0.35"/><circle cx="225.6" cy="52.7" r="0.35"/><circle cx="228.8" cy="73.5" r="0.35"/><circle cx="225.8" cy="64.7" r="0.35"/><circle cx="220.2" cy="70.5" r="0.35"/><circle cx="233.5" cy="69.2" r="0.35"/><circle cx="229.8" cy="51.8" r="0.35"/><circle cx="234.6" cy="48.0" r="0.35"/><circle cx="230.3" cy="51.2" r="0.35"/><circle cx="247.5" cy="47.8" r="0.35"/><circle cx="212.8" cy="53.8" r="0.35"/><circle cx="232.3" cy="64.3" r="0.35"/><circle cx="208.9" cy="58.6" r="0.35"/><circle cx="239.5" cy="59.4" r="0.35"/><circle cx="235.2" cy="49.4" r="0.35"/><circle cx="225.5" cy="51.3" r="0.35"/><circle cx="210.8" cy="56.0" r="0.35"/><circle cx="235.3" cy="43.4" r="0.35"/><circle cx="231.2" cy="65.7" r="0.35"/><circle cx="234.7" cy="46.6" r="0.35"/><circle cx="235.0" cy="62.8" r="0.35"/><circle cx="226.7" cy="52.9" r="0.35"/><circle cx="224.5" cy="64.5" r="0.35"/><circle cx="212.5" cy="54.3" r="0.35"/><circle cx="212.0" cy="60.1" r="0.35"/><circle cx="213.3" cy="58.7" r="0.35"/><circle cx="217.8" cy="50.8" r="0.35"/><circle cx="216.2" cy="62.3" r="0.35"/><circle cx="229.2" cy="57.8" r="0.35"/><circle cx="233.6" cy="48.0" r="0.35"/><circle cx="248.0" cy="45.2" r="0.35"/><circle cx="233.4" cy="47.6" r="0.35"/><circle cx="233.0" cy="50.4" r="0.35"/><circle cx="213.3" cy="55.7" r="0.35"/><circle cx="230.9" cy="54.5" r="0.35"/><circle cx="209.5" cy="54.1" r="0.35"/><circle cx="221.5" cy="46.1" r="0.35"/><circle cx="237.2" cy="72.6" r="0.35"/><circle cx="245.0" cy="55.0" r="0.35"/><circle cx="228.1" cy="53.8" r="0.35"/><circle cx="233.9" cy="37.2" r="0.35"/><circle cx="242.2" cy="58.4" r="0.35"/><circle cx="216.6" cy="61.7" r="0.35"/><circle cx="233.2" cy="49.0" r="0.35"/><circle cx="219.5" cy="47.8" r="0.35"/><circle cx="230.0" cy="54.1" r="0.35"/><circle cx="215.3" cy="67.7" r="0.35"/><circle cx="245.7" cy="60.3" r="0.35"/><circle cx="209.3" cy="53.7" r="0.35"/><circle cx="212.9" cy="57.0" r="0.35"/><circle cx="214.3" cy="60.0" r="0.35"/><circle cx="232.3" cy="52.8" r="0.35"/><circle cx="242.8" cy="53.8" r="0.35"/><circle cx="237.0" cy="49.9" r="0.35"/><circle cx="247.5" cy="62.4" r="0.35"/><circle cx="230.8" cy="53.4" r="0.35"/><circle cx="227.7" cy="55.5" r="0.35"/><circle cx="239.3" cy="60.8" r="0.35"/><circle cx="215.6" cy="62.3" r="0.35"/><circle cx="227.9" cy="50.1" r="0.35"/><circle cx="215.2" cy="50.8" r="0.35"/><circle cx="213.2" cy="48.8" r="0.35"/><circle cx="226.7" cy="67.2" r="0.35"/><circle cx="227.3" cy="54.2" r="0.35"/><circle cx="239.4" cy="64.0" r="0.35"/><circle cx="232.6" cy="65.0" r="0.35"/><circle cx="215.7" cy="63.2" r="0.35"/><circle cx="240.0" cy="38.7" r="0.35"/><circle cx="237.7" cy="63.2" r="0.35"/><circle cx="215.0" cy="61.2" r="0.35"/><circle cx="245.1" cy="58.1" r="0.35"/><circle cx="219.9" cy="64.8" r="0.35"/><circle cx="220.4" cy="49.5" r="0.35"/><circle cx="244.0" cy="57.5" r="0.35"/><circle cx="226.8" cy="58.0" r="0.35"/><circle cx="219.8" cy="49.2" r="0.35"/><circle cx="235.4" cy="47.2" r="0.35"/><circle cx="210.3" cy="53.8" r="0.35"/><circle cx="226.5" cy="64.8" r="0.35"/><circle cx="238.0" cy="48.5" r="0.35"/><circle cx="212.1" cy="60.2" r="0.35"/><circle cx="212.3" cy="59.5" r="0.35"/><circle cx="239.0" cy="46.2" r="0.35"/><circle cx="225.0" cy="51.0" r="0.35"/><circle cx="232.6" cy="51.1" r="0.35"/><circle cx="233.7" cy="52.5" r="0.35"/><circle cx="236.0" cy="61.2" r="0.35"/></g><path fill="none" stroke="#000" stroke-width="0.45" d="M242.0 50.8 241.1 50.8 240.9 50.2 241.0 49.9 243.0 49.2 243.7 49.2 243.9 49.5 243.6 50.0 242.0 50.8Z M220.8 56.3 219.8 56.3 219.4 56.0 219.4 55.8 219.8 55.5 220.6 55.5 221.0 56.0 220.8 56.3Z M242.2 51.6 241.2 51.5 240.5 51.0 240.1 50.0 240.2 48.7 240.8 48.2 241.8 48.4 242.8 48.2 243.4 47.8 244.0 46.8 244.5 46.8 245.0 47.3 245.4 48.2 245.5 49.0 245.3 49.8 244.2 50.8 242.2 51.6Z M221.5 57.8 220.2 57.6 219.0 56.9 218.7 56.2 219.1 55.5 219.8 55.2 220.5 55.1 221.7 55.8 222.0 56.2 222.2 57.0 222.0 57.5 221.5 57.8Z M242.2 52.0 241.0 51.8 240.1 51.0 239.7 49.8 239.9 48.0 240.5 46.9 241.8 46.0 244.2 46.0 245.0 46.5 245.6 47.2 245.9 48.5 245.8 49.5 245.2 50.5 244.5 51.2 243.5 51.7 242.2 52.0Z M221.0 58.5 219.5 58.4 218.9 58.0 218.5 57.5 218.3 56.8 218.4 56.0 219.2 55.2 220.2 55.0 221.0 55.1 221.8 55.5 222.4 56.2 222.6 57.0 222.3 57.8 221.8 58.3 221.0 58.5Z M242.8 52.3 241.2 52.2 240.2 51.5 239.5 50.0 239.5 48.2 240.0 47.0 241.2 45.8 242.2 45.5 243.8 45.5 244.8 45.9 245.6 46.8 246.1 48.0 246.1 49.2 245.7 50.2 244.9 51.2 244.0 51.9 242.8 52.3Z M221.0 58.8 219.5 58.8 218.8 58.4 218.2 57.8 218.0 57.0 218.1 56.2 218.4 55.8 219.0 55.2 220.0 54.8 221.0 54.9 222.0 55.5 222.6 56.2 222.8 57.0 222.5 57.9 222.0 58.4 221.0 58.8Z M242.5 52.5 241.5 52.4 240.8 52.1 239.8 51.2 239.3 49.8 239.4 48.0 239.9 46.8 241.2 45.6 242.5 45.2 244.0 45.3 245.0 45.8 245.8 46.8 246.3 48.2 246.2 49.5 245.6 50.8 244.8 51.7 243.5 52.3 242.5 52.5Z M220.8 59.0 220.0 59.0 219.0 58.7 218.3 58.2 217.9 57.5 217.8 56.8 218.0 56.0 218.5 55.4 219.2 54.9 220.2 54.8 221.2 54.9 222.2 55.5 222.9 56.5 222.9 57.5 222.5 58.2 221.8 58.7 220.8 59.0Z M243.5 52.5 241.8 52.7 240.5 52.2 239.7 51.2 239.2 49.8 239.2 48.2 239.6 47.0 240.8 45.7 242.0 45.1 243.8 45.1 244.8 45.4 245.8 46.5 246.4 47.8 246.4 49.2 245.8 50.8 244.8 51.9 243.5 52.5Z M221.2 59.0 219.5 59.1 218.5 58.6 218.0 58.0 217.7 57.2 217.8 56.2 218.0 55.8 218.8 55.1 219.8 54.7 220.8 54.7 222.0 55.2 222.8 56.0 223.1 57.0 222.9 57.8 222.2 58.6 221.2 59.0Z M243.0 52.8 241.8 52.8 240.2 52.2 239.4 51.0 239.0 49.2 239.1 47.8 239.8 46.5 241.2 45.2 242.8 44.8 244.2 45.0 245.4 45.8 246.2 46.8 246.6 48.5 246.4 49.8 245.6 51.2 244.2 52.4 243.0 52.8Z M220.5 59.3 219.5 59.2 218.8 58.9 217.8 58.0 217.6 57.2 217.7 56.2 218.1 55.5 219.0 54.8 219.8 54.6 221.0 54.6 222.0 55.1 222.9 56.0 223.2 56.8 223.1 57.5 222.5 58.5 221.5 59.1 220.5 59.3Z M243.5 52.8 241.8 53.0 240.2 52.4 239.3 51.2 238.9 49.8 238.9 48.2 239.5 46.8 240.8 45.4 242.0 44.8 243.8 44.8 244.8 45.1 246.0 46.2 246.6 47.8 246.6 49.2 246.1 50.8 245.0 52.0 243.5 52.8Z M221.0 59.3 220.0 59.4 219.0 59.1 218.1 58.5 217.6 57.8 217.4 57.0 217.6 56.0 218.2 55.2 219.2 54.6 221.2 54.6 222.5 55.3 223.2 56.2 223.2 57.5 222.9 58.2 222.0 59.0 221.0 59.3Z M232.2 59.8 231.8 60.0 231.7 59.5 232.0 59.2 232.3 59.2 232.2 59.8Z M232.5 61.3 231.8 61.4 230.8 61.0 230.3 60.2 230.4 59.5 231.7 58.0 232.0 56.5 232.5 55.8 233.2 55.5 234.8 56.0 235.7 55.8 237.1 54.8 236.7 53.8 237.0 53.0 237.7 52.5 239.0 52.0 239.1 51.5 238.8 50.0 238.8 48.2 239.1 47.2 239.7 46.2 241.0 45.1 242.2 44.7 243.8 44.7 245.2 45.3 246.4 46.8 246.7 48.0 246.6 49.8 245.9 51.2 245.0 52.2 243.8 52.9 242.2 53.1 240.3 53.0 238.3 53.8 237.4 54.8 238.0 55.5 238.1 56.0 237.4 57.8 237.0 58.1 235.5 58.7 234.5 59.8 232.5 61.3Z M221.5 59.3 220.5 59.5 219.2 59.4 218.2 58.8 217.6 58.0 217.3 57.2 217.4 56.2 217.8 55.5 218.8 54.6 219.8 54.3 221.0 54.3 222.5 55.2 223.2 56.0 223.4 57.0 223.2 58.0 222.2 59.0 221.5 59.3Z M232.2 62.6 231.2 62.6 230.2 62.2 229.7 61.5 229.3 60.5 229.5 59.5 231.1 57.8 231.8 55.8 233.0 54.9 234.8 54.5 235.7 53.0 237.2 51.8 238.5 51.2 238.7 50.8 238.6 49.0 238.9 47.5 239.4 46.5 240.5 45.4 241.8 44.7 242.8 44.5 244.0 44.6 245.2 45.2 246.4 46.5 246.8 48.0 246.7 49.8 246.0 51.2 245.2 52.1 244.0 52.9 241.3 53.5 238.4 57.2 237.5 58.7 236.0 59.3 235.0 60.4 232.2 62.6Z M221.0 59.6 220.0 59.7 219.2 59.6 218.0 58.8 217.4 58.0 217.2 56.8 217.6 55.2 217.3 54.2 217.5 53.7 218.0 53.2 221.0 53.5 223.2 55.2 223.6 56.8 223.3 58.5 223.9 59.2 223.8 59.4 223.0 58.8 221.0 59.6Z M220.0 61.5 219.2 61.6 218.8 61.3 218.4 60.8 218.5 60.2 219.2 59.9 220.0 60.1 220.5 60.8 220.3 61.2 220.0 61.5Z M228.5 64.8 228.0 64.5 228.0 64.2 228.4 62.5 227.9 60.8 228.0 60.2 229.2 58.8 230.6 57.5 231.4 55.8 232.0 55.0 235.2 52.3 238.2 50.3 238.9 47.2 239.7 46.0 241.0 44.9 242.5 44.4 244.2 44.6 245.5 45.3 246.6 46.8 247.0 48.5 246.6 50.2 245.7 51.8 244.2 52.9 242.1 53.5 240.7 55.8 238.8 57.7 238.0 59.2 236.2 60.0 233.0 63.0 232.2 63.4 230.2 63.8 229.0 64.6 228.5 64.8Z M221.5 62.6 220.5 62.7 219.0 62.4 218.2 62.0 217.6 61.2 216.5 59.2 216.5 58.8 216.9 57.8 216.9 57.0 216.8 56.8 215.7 56.2 215.3 55.2 216.3 53.0 217.5 52.1 221.0 52.6 222.5 53.5 224.0 53.6 224.5 54.0 224.9 54.8 225.6 60.5 224.5 61.2 222.6 61.5 221.5 62.6Z M229.2 65.3 228.0 65.5 227.2 65.0 227.0 64.5 227.2 62.8 226.8 62.3 226.2 62.1 225.0 62.1 222.2 63.4 220.8 63.8 218.5 63.1 217.8 62.7 215.7 60.5 214.2 59.4 213.8 58.5 213.8 57.8 214.2 56.5 213.5 55.0 214.8 52.4 216.2 51.3 217.0 51.1 219.5 51.7 221.2 51.3 222.8 52.5 224.2 51.8 225.8 54.2 227.2 56.0 226.4 58.2 226.6 59.0 227.2 59.2 228.0 58.9 230.0 57.2 231.4 55.0 234.8 51.9 237.0 50.5 238.0 49.6 238.2 49.3 238.9 47.0 239.6 46.0 240.5 45.1 241.5 44.6 243.0 44.3 244.5 44.6 245.5 45.2 246.4 46.2 247.0 48.0 246.9 49.8 246.0 51.5 244.8 52.7 242.4 53.8 241.2 56.0 239.2 58.0 238.2 59.9 236.5 60.6 233.0 63.8 230.8 64.4 229.2 65.3Z M229.0 66.0 227.2 65.9 226.2 65.4 225.9 64.8 226.1 63.5 225.8 63.1 225.2 63.2 224.2 64.2 222.2 64.2 220.2 65.1 218.5 64.3 215.5 63.9 213.5 62.5 212.7 61.2 212.7 59.5 212.1 57.5 212.4 56.2 212.5 54.5 213.9 52.0 215.5 50.3 216.0 50.0 219.5 50.7 221.0 50.2 222.8 50.2 224.0 49.9 224.5 49.9 225.0 50.3 226.0 51.9 227.0 52.8 229.0 56.3 229.2 56.5 229.8 56.2 231.1 54.5 234.5 51.4 236.5 50.2 238.0 48.8 239.1 46.5 240.8 44.9 242.0 44.3 243.5 44.3 244.8 44.6 245.5 45.1 246.7 46.5 247.1 48.2 246.9 50.0 245.9 51.8 245.0 52.6 243.0 53.8 241.7 56.0 239.7 58.2 238.7 60.5 236.8 61.2 233.5 64.2 229.0 66.0Z"/>
<rect x="200.50" y="36.5" width="69" height="68.80" fill="none" stroke="#111" stroke-width="1"/>
<rect x="226.50" y="38.5" width="26.00" height="32.3" fill="none" stroke="#111" stroke-width="1.15"/>
<line x1="226.50" y1="53.1" x2="252.50" y2="53.1" stroke="#111" stroke-width="1.3"/>
<text x="254.80" y="47.9" class="pc">28%</text>
<text x="254.80" y="65.0" class="pc">42%</text>
<line x1="198.70" y1="79.70" x2="200.50" y2="79.70" stroke="#111" stroke-width="0.8"/>
<line x1="199.20" y1="75.24" x2="200.50" y2="75.24" stroke="#111" stroke-width="0.8"/>
<line x1="199.20" y1="72.64" x2="200.50" y2="72.64" stroke="#111" stroke-width="0.8"/>
<line x1="199.20" y1="70.79" x2="200.50" y2="70.79" stroke="#111" stroke-width="0.8"/>
<line x1="199.20" y1="69.36" x2="200.50" y2="69.36" stroke="#111" stroke-width="0.8"/>
<line x1="199.20" y1="68.18" x2="200.50" y2="68.18" stroke="#111" stroke-width="0.8"/>
<line x1="199.20" y1="67.19" x2="200.50" y2="67.19" stroke="#111" stroke-width="0.8"/>
<line x1="199.20" y1="66.33" x2="200.50" y2="66.33" stroke="#111" stroke-width="0.8"/>
<line x1="199.20" y1="65.58" x2="200.50" y2="65.58" stroke="#111" stroke-width="0.8"/>
<line x1="198.70" y1="64.90" x2="200.50" y2="64.90" stroke="#111" stroke-width="0.8"/>
<line x1="199.20" y1="60.63" x2="200.50" y2="60.63" stroke="#111" stroke-width="0.8"/>
<line x1="199.20" y1="58.12" x2="200.50" y2="58.12" stroke="#111" stroke-width="0.8"/>
<line x1="199.20" y1="56.35" x2="200.50" y2="56.35" stroke="#111" stroke-width="0.8"/>
<line x1="199.20" y1="54.97" x2="200.50" y2="54.97" stroke="#111" stroke-width="0.8"/>
<line x1="199.20" y1="53.85" x2="200.50" y2="53.85" stroke="#111" stroke-width="0.8"/>
<line x1="199.20" y1="52.90" x2="200.50" y2="52.90" stroke="#111" stroke-width="0.8"/>
<line x1="199.20" y1="52.08" x2="200.50" y2="52.08" stroke="#111" stroke-width="0.8"/>
<line x1="199.20" y1="51.35" x2="200.50" y2="51.35" stroke="#111" stroke-width="0.8"/>
<line x1="198.70" y1="50.70" x2="200.50" y2="50.70" stroke="#111" stroke-width="0.8"/>
<line x1="199.20" y1="46.34" x2="200.50" y2="46.34" stroke="#111" stroke-width="0.8"/>
<line x1="199.20" y1="43.78" x2="200.50" y2="43.78" stroke="#111" stroke-width="0.8"/>
<line x1="199.20" y1="41.97" x2="200.50" y2="41.97" stroke="#111" stroke-width="0.8"/>
<line x1="199.20" y1="40.56" x2="200.50" y2="40.56" stroke="#111" stroke-width="0.8"/>
<line x1="198.70" y1="97.50" x2="200.50" y2="97.50" stroke="#111" stroke-width="0.8"/>
<line x1="199.20" y1="88.50" x2="200.50" y2="88.50" stroke="#111" stroke-width="0.8"/>
<line x1="199.20" y1="92.50" x2="200.50" y2="92.50" stroke="#111" stroke-width="0.8"/>
<line x1="199.20" y1="102.50" x2="200.50" y2="102.50" stroke="#111" stroke-width="0.8"/>
<line x1="199.20" y1="84.00" x2="200.50" y2="84.00" stroke="#111" stroke-width="0.8"/>
<line x1="225.30" y1="105.30" x2="225.30" y2="107.10" stroke="#111" stroke-width="0.8"/>
<line x1="229.70" y1="105.30" x2="229.70" y2="106.60" stroke="#111" stroke-width="0.8"/>
<line x1="232.27" y1="105.30" x2="232.27" y2="106.60" stroke="#111" stroke-width="0.8"/>
<line x1="234.09" y1="105.30" x2="234.09" y2="106.60" stroke="#111" stroke-width="0.8"/>
<line x1="235.50" y1="105.30" x2="235.50" y2="106.60" stroke="#111" stroke-width="0.8"/>
<line x1="236.66" y1="105.30" x2="236.66" y2="106.60" stroke="#111" stroke-width="0.8"/>
<line x1="237.64" y1="105.30" x2="237.64" y2="106.60" stroke="#111" stroke-width="0.8"/>
<line x1="238.49" y1="105.30" x2="238.49" y2="106.60" stroke="#111" stroke-width="0.8"/>
<line x1="239.23" y1="105.30" x2="239.23" y2="106.60" stroke="#111" stroke-width="0.8"/>
<line x1="239.90" y1="105.30" x2="239.90" y2="107.10" stroke="#111" stroke-width="0.8"/>
<line x1="244.36" y1="105.30" x2="244.36" y2="106.60" stroke="#111" stroke-width="0.8"/>
<line x1="246.96" y1="105.30" x2="246.96" y2="106.60" stroke="#111" stroke-width="0.8"/>
<line x1="248.81" y1="105.30" x2="248.81" y2="106.60" stroke="#111" stroke-width="0.8"/>
<line x1="250.24" y1="105.30" x2="250.24" y2="106.60" stroke="#111" stroke-width="0.8"/>
<line x1="251.42" y1="105.30" x2="251.42" y2="106.60" stroke="#111" stroke-width="0.8"/>
<line x1="252.41" y1="105.30" x2="252.41" y2="106.60" stroke="#111" stroke-width="0.8"/>
<line x1="253.27" y1="105.30" x2="253.27" y2="106.60" stroke="#111" stroke-width="0.8"/>
<line x1="254.02" y1="105.30" x2="254.02" y2="106.60" stroke="#111" stroke-width="0.8"/>
<line x1="254.70" y1="105.30" x2="254.70" y2="107.10" stroke="#111" stroke-width="0.8"/>
<line x1="259.16" y1="105.30" x2="259.16" y2="106.60" stroke="#111" stroke-width="0.8"/>
<line x1="261.76" y1="105.30" x2="261.76" y2="106.60" stroke="#111" stroke-width="0.8"/>
<line x1="263.61" y1="105.30" x2="263.61" y2="106.60" stroke="#111" stroke-width="0.8"/>
<line x1="265.04" y1="105.30" x2="265.04" y2="106.60" stroke="#111" stroke-width="0.8"/>
<line x1="208.70" y1="105.30" x2="208.70" y2="107.10" stroke="#111" stroke-width="0.8"/>
<line x1="204.50" y1="105.30" x2="204.50" y2="106.60" stroke="#111" stroke-width="0.8"/>
<line x1="213.00" y1="105.30" x2="213.00" y2="106.60" stroke="#111" stroke-width="0.8"/>
<line x1="217.00" y1="105.30" x2="217.00" y2="106.60" stroke="#111" stroke-width="0.8"/>
<line x1="221.00" y1="105.30" x2="221.00" y2="106.60" stroke="#111" stroke-width="0.8"/>
<text x="198.30" y="51.90" class="tl" transform="rotate(-90 196.90 50.70)" text-anchor="middle">10⁵</text>
<text x="198.30" y="66.10" class="tl" transform="rotate(-90 196.90 64.90)" text-anchor="middle">10⁴</text>
<text x="198.30" y="80.90" class="tl" transform="rotate(-90 196.90 79.70)" text-anchor="middle">10³</text>
<text x="197.10" y="98.80" class="tl" text-anchor="middle">0</text>
<text x="225.30" y="111.6" class="tl" text-anchor="middle">10³</text>
<text x="239.90" y="111.6" class="tl" text-anchor="middle">10⁴</text>
<text x="254.70" y="111.6" class="tl" text-anchor="middle">10⁵</text>
<text x="208.70" y="111.6" class="tl" text-anchor="middle">0</text>
<text x="316.00" y="30.6" class="ft">8 weeks</text>
<ellipse cx="299" cy="58.5" rx="9" ry="8.5" fill="#b8b8b8" filter="url(#speck)" transform="rotate(0 299 58.5)"/><ellipse cx="317" cy="54" rx="9.5" ry="10" fill="#c4c4c4" filter="url(#speck)" transform="rotate(0 317 54)"/><g fill="#555"><circle cx="309.1" cy="63.8" r="0.35"/><circle cx="301.2" cy="44.5" r="0.35"/><circle cx="324.4" cy="52.8" r="0.35"/><circle cx="284.7" cy="62.9" r="0.35"/><circle cx="306.6" cy="58.7" r="0.35"/><circle cx="328.5" cy="60.3" r="0.35"/><circle cx="334.6" cy="52.7" r="0.35"/><circle cx="328.7" cy="54.7" r="0.35"/><circle cx="291.5" cy="68.5" r="0.35"/><circle cx="303.0" cy="43.3" r="0.35"/><circle cx="325.3" cy="45.3" r="0.35"/><circle cx="315.0" cy="38.3" r="0.35"/><circle cx="291.0" cy="56.6" r="0.35"/><circle cx="328.0" cy="45.6" r="0.35"/><circle cx="291.7" cy="50.4" r="0.35"/><circle cx="305.7" cy="75.0" r="0.35"/><circle cx="306.2" cy="66.6" r="0.35"/><circle cx="309.0" cy="42.3" r="0.35"/><circle cx="302.4" cy="70.5" r="0.35"/><circle cx="330.0" cy="52.0" r="0.35"/><circle cx="291.8" cy="54.6" r="0.35"/><circle cx="294.7" cy="67.0" r="0.35"/><circle cx="324.3" cy="52.7" r="0.35"/><circle cx="308.8" cy="44.2" r="0.35"/><circle cx="298.8" cy="47.7" r="0.35"/><circle cx="297.1" cy="49.5" r="0.35"/><circle cx="290.8" cy="55.0" r="0.35"/><circle cx="315.7" cy="38.2" r="0.35"/><circle cx="315.7" cy="42.3" r="0.35"/><circle cx="296.0" cy="65.7" r="0.35"/><circle cx="309.3" cy="74.6" r="0.35"/><circle cx="314.2" cy="43.2" r="0.35"/><circle cx="326.8" cy="63.4" r="0.35"/><circle cx="311.4" cy="51.0" r="0.35"/><circle cx="297.6" cy="43.0" r="0.35"/><circle cx="291.0" cy="54.0" r="0.35"/><circle cx="316.7" cy="39.4" r="0.35"/><circle cx="284.8" cy="65.2" r="0.35"/><circle cx="311.7" cy="72.4" r="0.35"/><circle cx="300.8" cy="39.5" r="0.35"/><circle cx="311.1" cy="37.6" r="0.35"/><circle cx="305.1" cy="66.3" r="0.35"/><circle cx="327.4" cy="40.0" r="0.35"/><circle cx="285.4" cy="60.5" r="0.35"/><circle cx="298.0" cy="52.2" r="0.35"/><circle cx="300.5" cy="43.2" r="0.35"/><circle cx="290.9" cy="54.8" r="0.35"/><circle cx="294.0" cy="52.8" r="0.35"/><circle cx="297.1" cy="52.0" r="0.35"/><circle cx="323.5" cy="62.9" r="0.35"/><circle cx="307.7" cy="53.3" r="0.35"/><circle cx="303.5" cy="51.0" r="0.35"/><circle cx="306.1" cy="50.1" r="0.35"/><circle cx="310.1" cy="47.7" r="0.35"/><circle cx="311.9" cy="41.0" r="0.35"/><circle cx="311.1" cy="54.0" r="0.35"/><circle cx="300.0" cy="70.1" r="0.35"/><circle cx="291.5" cy="65.0" r="0.35"/><circle cx="329.9" cy="44.4" r="0.35"/><circle cx="310.5" cy="54.0" r="0.35"/><circle cx="289.9" cy="66.8" r="0.35"/><circle cx="316.7" cy="40.1" r="0.35"/><circle cx="288.7" cy="52.3" r="0.35"/><circle cx="307.3" cy="57.0" r="0.35"/><circle cx="313.5" cy="44.0" r="0.35"/><circle cx="313.2" cy="66.5" r="0.35"/><circle cx="315.4" cy="42.6" r="0.35"/><circle cx="287.0" cy="58.3" r="0.35"/><circle cx="324.8" cy="54.3" r="0.35"/><circle cx="325.9" cy="48.7" r="0.35"/><circle cx="330.8" cy="50.1" r="0.35"/><circle cx="296.3" cy="44.2" r="0.35"/><circle cx="284.1" cy="61.6" r="0.35"/><circle cx="327.7" cy="64.0" r="0.35"/><circle cx="325.2" cy="67.8" r="0.35"/><circle cx="325.0" cy="44.5" r="0.35"/><circle cx="306.1" cy="55.5" r="0.35"/><circle cx="295.3" cy="69.0" r="0.35"/><circle cx="327.3" cy="49.8" r="0.35"/><circle cx="312.2" cy="54.0" r="0.35"/><circle cx="322.8" cy="63.3" r="0.35"/><circle cx="291.3" cy="53.7" r="0.35"/><circle cx="313.0" cy="44.1" r="0.35"/><circle cx="312.1" cy="69.3" r="0.35"/><circle cx="308.2" cy="63.1" r="0.35"/><circle cx="300.6" cy="70.5" r="0.35"/><circle cx="293.0" cy="69.3" r="0.35"/><circle cx="290.5" cy="55.7" r="0.35"/><circle cx="312.9" cy="71.8" r="0.35"/><circle cx="327.0" cy="47.1" r="0.35"/><circle cx="295.0" cy="50.8" r="0.35"/><circle cx="325.7" cy="58.2" r="0.35"/><circle cx="295.0" cy="46.5" r="0.35"/><circle cx="308.3" cy="42.4" r="0.35"/><circle cx="286.2" cy="55.4" r="0.35"/><circle cx="296.6" cy="50.8" r="0.35"/><circle cx="304.1" cy="44.5" r="0.35"/><circle cx="314.7" cy="66.3" r="0.35"/><circle cx="289.8" cy="60.3" r="0.35"/><circle cx="291.7" cy="46.3" r="0.35"/><circle cx="309.5" cy="63.2" r="0.35"/><circle cx="331.8" cy="48.6" r="0.35"/><circle cx="289.5" cy="59.5" r="0.35"/><circle cx="306.7" cy="71.5" r="0.35"/><circle cx="308.3" cy="70.2" r="0.35"/><circle cx="317.2" cy="41.9" r="0.35"/><circle cx="319.7" cy="38.5" r="0.35"/><circle cx="294.8" cy="68.2" r="0.35"/><circle cx="299.3" cy="45.2" r="0.35"/><circle cx="321.6" cy="73.8" r="0.35"/><circle cx="305.3" cy="50.8" r="0.35"/><circle cx="290.3" cy="45.2" r="0.35"/><circle cx="312.0" cy="43.3" r="0.35"/><circle cx="319.5" cy="67.2" r="0.35"/><circle cx="322.0" cy="54.2" r="0.35"/><circle cx="288.3" cy="61.5" r="0.35"/><circle cx="286.4" cy="60.7" r="0.35"/><circle cx="291.0" cy="48.9" r="0.35"/><circle cx="326.8" cy="43.8" r="0.35"/><circle cx="304.2" cy="45.8" r="0.35"/></g><path fill="none" stroke="#000" stroke-width="0.45" d="M301.5 61.5 301.2 61.7 301.0 61.6 300.0 60.7 299.6 60.0 299.8 59.4 300.5 59.2 301.0 59.5 301.4 60.2 301.5 61.5Z M301.0 63.6 300.5 63.6 300.0 63.3 299.7 62.0 299.0 61.1 298.5 60.7 297.2 60.3 296.9 59.8 296.8 59.0 297.0 58.1 297.5 57.6 298.0 57.6 299.0 57.9 299.8 57.8 300.2 56.2 300.8 55.9 301.2 56.1 301.6 56.5 301.7 58.0 302.9 61.8 302.6 62.8 301.0 63.6Z M301.0 64.3 300.5 64.4 299.8 64.3 297.0 62.8 296.5 61.8 296.2 59.5 296.4 58.2 297.0 57.0 298.3 56.2 299.4 55.2 300.2 55.0 301.6 55.2 302.6 56.0 303.7 59.8 303.7 61.8 303.4 62.8 302.8 63.4 301.0 64.3Z M301.0 64.8 299.8 64.8 297.2 63.6 296.4 62.8 295.9 61.5 295.8 59.0 296.4 57.0 296.8 56.5 298.8 54.8 299.5 54.5 301.8 54.8 303.2 55.8 304.0 57.0 304.5 59.2 304.4 60.5 303.7 63.0 303.0 63.8 301.0 64.8Z M300.5 65.3 298.8 64.8 296.8 63.7 295.9 62.5 295.5 60.8 295.5 58.5 296.2 56.5 298.5 54.4 299.5 54.0 301.8 54.4 303.5 55.5 304.4 57.0 304.9 59.2 304.8 60.8 303.8 63.5 301.8 64.9 300.5 65.3Z M316.0 61.3 315.0 61.5 314.3 61.2 314.0 60.8 314.0 60.0 316.2 58.6 318.0 58.1 319.0 58.2 319.7 58.8 319.7 59.5 318.0 60.9 316.0 61.3Z M300.8 65.5 299.8 65.4 298.5 65.0 296.5 63.8 295.6 62.5 295.2 60.8 295.2 58.5 296.0 56.2 298.2 54.1 299.2 53.7 300.0 53.7 301.8 54.1 303.5 55.1 304.6 56.5 305.1 58.5 305.1 60.5 304.1 63.5 303.5 64.2 302.8 64.7 301.5 65.3 300.8 65.5Z M314.2 62.8 313.4 62.5 312.7 61.8 312.0 59.0 312.3 58.2 313.2 57.8 314.8 57.8 316.0 56.9 318.2 56.5 319.7 56.5 320.5 56.9 320.9 57.8 321.1 59.0 321.1 59.8 320.7 60.5 318.2 61.8 316.2 62.1 314.2 62.8Z M301.5 65.6 300.5 65.7 299.5 65.6 298.0 65.1 296.8 64.3 295.6 63.0 294.9 60.8 294.9 58.5 295.6 56.2 296.2 55.5 298.0 54.0 299.2 53.4 300.2 53.5 301.8 53.9 303.5 54.8 304.6 56.0 305.3 58.0 305.4 60.5 304.4 63.5 303.5 64.5 301.5 65.6Z M315.0 63.3 314.2 63.4 313.5 63.3 312.5 62.7 311.7 62.0 311.0 59.0 311.5 58.0 314.0 56.3 317.2 55.5 319.0 55.6 320.8 56.3 321.4 57.2 321.7 59.0 321.6 60.0 321.1 61.0 320.3 61.8 319.5 62.2 316.5 62.7 315.0 63.3Z M301.5 65.8 300.5 65.9 299.5 65.8 298.0 65.4 296.8 64.6 295.8 63.8 295.4 63.0 294.7 60.8 294.7 58.5 295.5 56.0 297.8 53.9 299.0 53.3 300.8 53.4 302.2 53.8 303.2 54.4 304.7 55.8 305.5 57.8 305.6 60.5 304.6 63.5 303.8 64.6 301.5 65.8Z M314.8 63.8 314.0 63.8 313.2 63.6 311.8 62.9 311.1 62.2 310.3 59.2 310.3 58.8 310.8 58.0 313.8 55.8 316.8 55.0 318.8 55.1 320.8 55.8 321.6 56.8 322.2 59.0 322.1 60.0 321.4 61.2 320.5 62.2 319.8 62.6 316.8 63.1 314.8 63.8Z M316.8 48.5 315.8 48.7 315.2 48.5 315.3 47.8 316.0 46.9 316.8 46.7 317.8 47.1 318.5 47.1 318.8 47.2 318.0 47.5 316.8 48.5Z M301.2 66.1 300.2 66.1 298.8 65.8 297.5 65.3 296.5 64.7 295.6 63.8 295.2 63.0 294.4 60.5 294.5 58.2 295.4 55.8 297.8 53.6 299.0 53.0 300.2 53.0 301.5 53.4 303.5 54.3 304.9 55.8 305.7 57.8 305.8 60.5 304.7 63.8 304.1 64.5 303.2 65.2 301.2 66.1Z M315.0 64.0 314.0 64.1 313.2 64.0 311.5 63.2 310.8 62.6 310.3 61.8 309.7 59.8 309.7 59.0 310.0 58.2 311.0 57.2 313.5 55.5 314.2 55.2 317.5 54.5 319.5 54.9 320.8 55.4 321.8 56.5 322.5 58.8 322.4 60.0 321.8 61.2 320.8 62.4 319.8 63.0 316.8 63.4 315.0 64.0Z M320.5 52.6 319.0 52.7 318.2 52.5 316.8 50.4 316.2 50.5 315.2 51.2 315.0 51.1 314.5 50.0 313.0 48.5 313.0 47.5 314.2 46.8 315.2 45.8 316.5 45.6 318.8 45.7 319.5 46.0 320.8 47.0 322.5 47.2 322.9 48.0 322.7 49.2 322.2 50.1 321.4 51.0 320.8 52.2 320.5 52.6Z M301.0 66.3 299.8 66.2 298.2 65.9 296.2 64.7 295.1 63.2 294.2 60.2 294.3 57.8 295.1 55.8 297.8 53.4 299.0 52.8 300.2 52.8 302.0 53.3 304.0 54.4 305.1 55.8 305.9 58.0 305.9 60.8 304.7 64.0 304.1 64.8 303.2 65.4 302.2 65.9 301.0 66.3Z M315.0 64.3 313.5 64.3 311.5 63.6 310.5 63.0 309.9 62.0 309.3 60.2 309.2 59.2 309.4 58.5 310.5 57.2 313.5 55.0 315.6 54.5 316.8 53.9 318.0 53.9 320.5 54.8 321.8 55.9 322.4 57.2 322.9 59.2 322.4 60.8 321.2 62.3 320.0 63.2 319.0 63.5 316.8 63.8 315.0 64.3Z M315.0 64.5 313.5 64.6 311.2 63.9 310.2 63.3 309.3 61.8 308.8 60.0 308.8 59.0 309.3 58.0 310.5 56.7 312.1 55.8 313.5 54.6 315.0 54.2 315.5 53.8 315.2 53.2 314.0 52.2 313.6 50.5 312.3 49.2 311.5 47.8 311.3 46.8 311.6 45.8 312.2 45.3 313.5 45.2 316.3 44.5 318.0 43.5 318.5 43.4 318.8 43.5 319.4 44.5 320.8 45.9 321.3 46.0 323.0 45.6 323.5 45.8 323.8 46.2 323.5 50.5 320.9 54.2 322.6 56.8 323.2 58.5 323.2 59.5 322.9 60.5 322.1 61.8 321.2 62.7 320.2 63.4 319.0 63.8 317.2 64.0 315.0 64.5Z M301.8 66.3 300.8 66.5 299.5 66.4 297.8 65.9 296.5 65.2 295.1 63.8 294.1 60.8 293.9 59.5 294.1 57.8 294.8 55.8 295.5 55.0 297.5 53.3 298.8 52.6 299.8 52.6 301.0 52.8 303.5 53.8 305.1 55.2 306.0 57.2 306.2 58.8 306.1 60.5 305.2 63.5 304.6 64.5 304.0 65.1 301.8 66.3Z M314.8 64.8 313.5 64.8 311.0 64.2 310.2 63.8 309.2 62.5 308.4 60.2 308.3 59.0 308.9 57.8 310.2 56.4 312.2 55.2 312.8 54.2 312.5 51.2 311.0 49.8 310.4 48.2 310.4 47.2 310.9 45.5 311.5 44.6 314.0 44.0 316.0 42.8 318.0 42.2 318.8 42.1 319.5 42.4 320.8 43.5 323.5 44.3 324.2 44.8 325.1 46.5 324.6 48.5 325.2 50.0 325.2 50.5 323.8 52.6 322.2 53.7 321.8 54.5 321.9 55.0 322.9 56.8 323.6 59.0 323.4 60.0 322.4 61.8 321.2 63.0 319.8 63.9 314.8 64.8Z M301.8 66.5 300.2 66.7 298.0 66.2 296.8 65.6 295.4 64.5 294.6 63.2 293.8 60.8 293.5 58.2 292.5 57.4 292.2 56.8 292.2 56.2 292.5 56.0 294.2 55.7 297.8 52.8 298.8 52.3 300.0 52.3 302.5 53.1 305.2 54.4 305.7 55.0 306.1 56.8 306.4 60.2 306.1 61.5 305.2 64.0 304.5 65.0 304.0 65.4 301.8 66.5Z M308.5 56.0 307.8 56.0 307.3 55.8 307.1 55.0 308.2 53.8 309.5 53.1 310.0 53.1 310.3 53.2 310.4 53.8 310.1 55.0 309.5 55.7 308.5 56.0Z M302.0 66.8 301.2 66.9 300.0 66.9 297.8 66.4 295.8 65.4 294.8 65.6 294.4 65.5 294.2 65.0 294.2 63.2 293.5 61.0 292.2 60.3 290.5 60.1 289.8 59.8 289.8 59.5 290.8 58.5 291.1 58.0 291.1 57.2 290.4 55.2 290.5 54.2 290.8 53.8 291.5 53.6 293.0 54.1 295.5 54.0 296.8 53.0 297.8 51.2 298.2 51.0 299.2 51.3 301.7 52.5 302.8 52.6 303.5 51.8 304.8 51.0 304.9 49.5 305.5 49.0 306.2 49.2 306.9 50.2 306.9 50.5 305.9 51.5 306.0 52.5 306.5 53.1 307.0 53.2 307.5 53.0 308.1 52.5 308.3 52.0 307.3 50.5 307.4 50.2 308.8 49.6 309.2 49.2 310.2 45.8 311.0 44.3 311.8 43.7 314.0 43.1 315.5 42.0 317.0 41.8 318.2 41.3 319.2 41.3 322.5 42.8 324.5 43.3 325.0 43.7 325.8 45.1 327.5 46.0 327.8 46.5 327.8 47.1 326.5 47.4 326.0 48.0 326.0 48.5 326.5 49.8 326.2 50.8 325.1 52.2 324.2 53.9 322.9 54.2 322.5 54.7 323.9 58.2 324.0 59.2 322.9 61.5 321.2 63.5 319.5 64.4 314.2 65.1 310.2 64.5 309.1 63.5 308.4 62.2 307.6 59.5 307.9 57.8 307.8 57.5 307.5 57.5 306.9 58.0 306.6 60.8 305.2 65.5 304.8 65.8 302.0 66.8Z M311.6 55.0 311.8 54.5 311.5 54.4 311.2 55.0 311.6 55.0Z"/>
<rect x="281.50" y="36.5" width="69" height="68.80" fill="none" stroke="#111" stroke-width="1"/>
<rect x="307.50" y="38.5" width="25.00" height="32.3" fill="none" stroke="#111" stroke-width="1.15"/>
<line x1="307.50" y1="53.1" x2="332.50" y2="53.1" stroke="#111" stroke-width="1.3"/>
<text x="334.80" y="47.9" class="pc">9.8%</text>
<text x="334.80" y="65.0" class="pc">39%</text>
<line x1="279.70" y1="79.70" x2="281.50" y2="79.70" stroke="#111" stroke-width="0.8"/>
<line x1="280.20" y1="75.24" x2="281.50" y2="75.24" stroke="#111" stroke-width="0.8"/>
<line x1="280.20" y1="72.64" x2="281.50" y2="72.64" stroke="#111" stroke-width="0.8"/>
<line x1="280.20" y1="70.79" x2="281.50" y2="70.79" stroke="#111" stroke-width="0.8"/>
<line x1="280.20" y1="69.36" x2="281.50" y2="69.36" stroke="#111" stroke-width="0.8"/>
<line x1="280.20" y1="68.18" x2="281.50" y2="68.18" stroke="#111" stroke-width="0.8"/>
<line x1="280.20" y1="67.19" x2="281.50" y2="67.19" stroke="#111" stroke-width="0.8"/>
<line x1="280.20" y1="66.33" x2="281.50" y2="66.33" stroke="#111" stroke-width="0.8"/>
<line x1="280.20" y1="65.58" x2="281.50" y2="65.58" stroke="#111" stroke-width="0.8"/>
<line x1="279.70" y1="64.90" x2="281.50" y2="64.90" stroke="#111" stroke-width="0.8"/>
<line x1="280.20" y1="60.63" x2="281.50" y2="60.63" stroke="#111" stroke-width="0.8"/>
<line x1="280.20" y1="58.12" x2="281.50" y2="58.12" stroke="#111" stroke-width="0.8"/>
<line x1="280.20" y1="56.35" x2="281.50" y2="56.35" stroke="#111" stroke-width="0.8"/>
<line x1="280.20" y1="54.97" x2="281.50" y2="54.97" stroke="#111" stroke-width="0.8"/>
<line x1="280.20" y1="53.85" x2="281.50" y2="53.85" stroke="#111" stroke-width="0.8"/>
<line x1="280.20" y1="52.90" x2="281.50" y2="52.90" stroke="#111" stroke-width="0.8"/>
<line x1="280.20" y1="52.08" x2="281.50" y2="52.08" stroke="#111" stroke-width="0.8"/>
<line x1="280.20" y1="51.35" x2="281.50" y2="51.35" stroke="#111" stroke-width="0.8"/>
<line x1="279.70" y1="50.70" x2="281.50" y2="50.70" stroke="#111" stroke-width="0.8"/>
<line x1="280.20" y1="46.34" x2="281.50" y2="46.34" stroke="#111" stroke-width="0.8"/>
<line x1="280.20" y1="43.78" x2="281.50" y2="43.78" stroke="#111" stroke-width="0.8"/>
<line x1="280.20" y1="41.97" x2="281.50" y2="41.97" stroke="#111" stroke-width="0.8"/>
<line x1="280.20" y1="40.56" x2="281.50" y2="40.56" stroke="#111" stroke-width="0.8"/>
<line x1="279.70" y1="97.50" x2="281.50" y2="97.50" stroke="#111" stroke-width="0.8"/>
<line x1="280.20" y1="88.50" x2="281.50" y2="88.50" stroke="#111" stroke-width="0.8"/>
<line x1="280.20" y1="92.50" x2="281.50" y2="92.50" stroke="#111" stroke-width="0.8"/>
<line x1="280.20" y1="102.50" x2="281.50" y2="102.50" stroke="#111" stroke-width="0.8"/>
<line x1="280.20" y1="84.00" x2="281.50" y2="84.00" stroke="#111" stroke-width="0.8"/>
<line x1="306.30" y1="105.30" x2="306.30" y2="107.10" stroke="#111" stroke-width="0.8"/>
<line x1="310.70" y1="105.30" x2="310.70" y2="106.60" stroke="#111" stroke-width="0.8"/>
<line x1="313.27" y1="105.30" x2="313.27" y2="106.60" stroke="#111" stroke-width="0.8"/>
<line x1="315.09" y1="105.30" x2="315.09" y2="106.60" stroke="#111" stroke-width="0.8"/>
<line x1="316.50" y1="105.30" x2="316.50" y2="106.60" stroke="#111" stroke-width="0.8"/>
<line x1="317.66" y1="105.30" x2="317.66" y2="106.60" stroke="#111" stroke-width="0.8"/>
<line x1="318.64" y1="105.30" x2="318.64" y2="106.60" stroke="#111" stroke-width="0.8"/>
<line x1="319.49" y1="105.30" x2="319.49" y2="106.60" stroke="#111" stroke-width="0.8"/>
<line x1="320.23" y1="105.30" x2="320.23" y2="106.60" stroke="#111" stroke-width="0.8"/>
<line x1="320.90" y1="105.30" x2="320.90" y2="107.10" stroke="#111" stroke-width="0.8"/>
<line x1="325.36" y1="105.30" x2="325.36" y2="106.60" stroke="#111" stroke-width="0.8"/>
<line x1="327.96" y1="105.30" x2="327.96" y2="106.60" stroke="#111" stroke-width="0.8"/>
<line x1="329.81" y1="105.30" x2="329.81" y2="106.60" stroke="#111" stroke-width="0.8"/>
<line x1="331.24" y1="105.30" x2="331.24" y2="106.60" stroke="#111" stroke-width="0.8"/>
<line x1="332.42" y1="105.30" x2="332.42" y2="106.60" stroke="#111" stroke-width="0.8"/>
<line x1="333.41" y1="105.30" x2="333.41" y2="106.60" stroke="#111" stroke-width="0.8"/>
<line x1="334.27" y1="105.30" x2="334.27" y2="106.60" stroke="#111" stroke-width="0.8"/>
<line x1="335.02" y1="105.30" x2="335.02" y2="106.60" stroke="#111" stroke-width="0.8"/>
<line x1="335.70" y1="105.30" x2="335.70" y2="107.10" stroke="#111" stroke-width="0.8"/>
<line x1="340.16" y1="105.30" x2="340.16" y2="106.60" stroke="#111" stroke-width="0.8"/>
<line x1="342.76" y1="105.30" x2="342.76" y2="106.60" stroke="#111" stroke-width="0.8"/>
<line x1="344.61" y1="105.30" x2="344.61" y2="106.60" stroke="#111" stroke-width="0.8"/>
<line x1="346.04" y1="105.30" x2="346.04" y2="106.60" stroke="#111" stroke-width="0.8"/>
<line x1="289.70" y1="105.30" x2="289.70" y2="107.10" stroke="#111" stroke-width="0.8"/>
<line x1="285.50" y1="105.30" x2="285.50" y2="106.60" stroke="#111" stroke-width="0.8"/>
<line x1="294.00" y1="105.30" x2="294.00" y2="106.60" stroke="#111" stroke-width="0.8"/>
<line x1="298.00" y1="105.30" x2="298.00" y2="106.60" stroke="#111" stroke-width="0.8"/>
<line x1="302.00" y1="105.30" x2="302.00" y2="106.60" stroke="#111" stroke-width="0.8"/>
<text x="279.30" y="51.90" class="tl" transform="rotate(-90 277.90 50.70)" text-anchor="middle">10⁵</text>
<text x="279.30" y="66.10" class="tl" transform="rotate(-90 277.90 64.90)" text-anchor="middle">10⁴</text>
<text x="279.30" y="80.90" class="tl" transform="rotate(-90 277.90 79.70)" text-anchor="middle">10³</text>
<text x="278.10" y="98.80" class="tl" text-anchor="middle">0</text>
<text x="306.30" y="111.6" class="tl" text-anchor="middle">10³</text>
<text x="320.90" y="111.6" class="tl" text-anchor="middle">10⁴</text>
<text x="335.70" y="111.6" class="tl" text-anchor="middle">10⁵</text>
<text x="289.70" y="111.6" class="tl" text-anchor="middle">0</text>
<text x="397.00" y="30.6" class="ft">12 weeks</text>
<ellipse cx="381" cy="58.5" rx="9" ry="8.5" fill="#b8b8b8" filter="url(#speck)" transform="rotate(0 381 58.5)"/><ellipse cx="399" cy="53" rx="9.5" ry="10.5" fill="#c0c0c0" filter="url(#speck)" transform="rotate(0 399 53)"/><g fill="#555"><circle cx="389.8" cy="63.9" r="0.35"/><circle cx="411.4" cy="59.3" r="0.35"/><circle cx="410.8" cy="55.8" r="0.35"/><circle cx="402.3" cy="66.8" r="0.35"/><circle cx="390.2" cy="37.1" r="0.35"/><circle cx="412.8" cy="41.7" r="0.35"/><circle cx="369.0" cy="60.7" r="0.35"/><circle cx="391.7" cy="51.0" r="0.35"/><circle cx="407.9" cy="45.3" r="0.35"/><circle cx="377.8" cy="51.7" r="0.35"/><circle cx="369.7" cy="43.0" r="0.35"/><circle cx="385.2" cy="43.9" r="0.35"/><circle cx="388.9" cy="52.4" r="0.35"/><circle cx="394.0" cy="42.3" r="0.35"/><circle cx="368.7" cy="51.7" r="0.35"/><circle cx="390.9" cy="62.9" r="0.35"/><circle cx="389.3" cy="60.7" r="0.35"/><circle cx="375.5" cy="67.7" r="0.35"/><circle cx="399.3" cy="68.6" r="0.35"/><circle cx="405.0" cy="62.2" r="0.35"/><circle cx="408.5" cy="45.5" r="0.35"/><circle cx="384.6" cy="51.1" r="0.35"/><circle cx="400.3" cy="68.9" r="0.35"/><circle cx="378.6" cy="47.3" r="0.35"/><circle cx="374.5" cy="68.6" r="0.35"/><circle cx="404.8" cy="37.2" r="0.35"/><circle cx="406.0" cy="37.1" r="0.35"/><circle cx="372.3" cy="58.5" r="0.35"/><circle cx="409.5" cy="38.2" r="0.35"/><circle cx="415.9" cy="69.0" r="0.35"/><circle cx="384.6" cy="46.4" r="0.35"/><circle cx="411.2" cy="54.4" r="0.35"/><circle cx="378.7" cy="43.3" r="0.35"/><circle cx="390.4" cy="63.7" r="0.35"/><circle cx="412.8" cy="49.3" r="0.35"/><circle cx="396.8" cy="39.2" r="0.35"/><circle cx="391.0" cy="47.2" r="0.35"/><circle cx="407.4" cy="49.7" r="0.35"/><circle cx="373.0" cy="50.8" r="0.35"/><circle cx="375.7" cy="63.4" r="0.35"/><circle cx="386.3" cy="44.0" r="0.35"/><circle cx="373.3" cy="56.3" r="0.35"/><circle cx="376.6" cy="42.2" r="0.35"/><circle cx="409.2" cy="48.3" r="0.35"/><circle cx="370.2" cy="64.1" r="0.35"/><circle cx="376.0" cy="51.0" r="0.35"/><circle cx="383.2" cy="46.9" r="0.35"/><circle cx="416.8" cy="61.2" r="0.35"/><circle cx="404.9" cy="66.8" r="0.35"/><circle cx="407.8" cy="65.3" r="0.35"/><circle cx="407.5" cy="62.6" r="0.35"/><circle cx="385.6" cy="67.7" r="0.35"/><circle cx="389.2" cy="67.8" r="0.35"/><circle cx="395.3" cy="73.0" r="0.35"/><circle cx="402.7" cy="40.2" r="0.35"/><circle cx="398.4" cy="41.2" r="0.35"/><circle cx="392.2" cy="51.8" r="0.35"/><circle cx="381.4" cy="71.8" r="0.35"/><circle cx="373.3" cy="72.7" r="0.35"/><circle cx="374.0" cy="56.2" r="0.35"/><circle cx="375.3" cy="64.2" r="0.35"/><circle cx="412.8" cy="65.5" r="0.35"/><circle cx="408.9" cy="49.1" r="0.35"/><circle cx="401.8" cy="38.4" r="0.35"/><circle cx="410.2" cy="44.7" r="0.35"/><circle cx="407.6" cy="50.7" r="0.35"/><circle cx="369.4" cy="51.2" r="0.35"/><circle cx="407.5" cy="53.9" r="0.35"/><circle cx="388.3" cy="70.2" r="0.35"/><circle cx="376.2" cy="47.8" r="0.35"/><circle cx="399.7" cy="67.9" r="0.35"/><circle cx="414.2" cy="65.5" r="0.35"/><circle cx="408.5" cy="71.7" r="0.35"/><circle cx="408.3" cy="58.6" r="0.35"/><circle cx="409.6" cy="44.3" r="0.35"/><circle cx="385.5" cy="42.3" r="0.35"/><circle cx="389.5" cy="63.7" r="0.35"/><circle cx="408.8" cy="71.9" r="0.35"/><circle cx="380.0" cy="66.4" r="0.35"/><circle cx="372.1" cy="64.0" r="0.35"/><circle cx="409.5" cy="47.0" r="0.35"/><circle cx="373.0" cy="57.0" r="0.35"/><circle cx="393.1" cy="43.2" r="0.35"/><circle cx="408.1" cy="47.7" r="0.35"/><circle cx="379.3" cy="49.0" r="0.35"/><circle cx="390.0" cy="39.7" r="0.35"/><circle cx="382.3" cy="49.7" r="0.35"/><circle cx="414.3" cy="62.5" r="0.35"/><circle cx="408.5" cy="49.3" r="0.35"/><circle cx="375.2" cy="52.8" r="0.35"/><circle cx="391.0" cy="46.8" r="0.35"/><circle cx="392.2" cy="63.6" r="0.35"/><circle cx="401.3" cy="64.5" r="0.35"/><circle cx="387.8" cy="51.7" r="0.35"/><circle cx="373.7" cy="48.9" r="0.35"/><circle cx="371.3" cy="60.0" r="0.35"/><circle cx="392.4" cy="74.1" r="0.35"/><circle cx="401.8" cy="70.8" r="0.35"/><circle cx="397.5" cy="73.3" r="0.35"/><circle cx="406.0" cy="43.8" r="0.35"/><circle cx="382.2" cy="49.3" r="0.35"/><circle cx="396.5" cy="42.8" r="0.35"/><circle cx="386.3" cy="65.2" r="0.35"/><circle cx="413.3" cy="50.1" r="0.35"/><circle cx="407.5" cy="70.7" r="0.35"/><circle cx="403.0" cy="40.5" r="0.35"/><circle cx="404.7" cy="65.2" r="0.35"/><circle cx="381.1" cy="46.7" r="0.35"/><circle cx="391.5" cy="51.9" r="0.35"/><circle cx="386.6" cy="44.0" r="0.35"/><circle cx="365.2" cy="56.5" r="0.35"/><circle cx="389.6" cy="71.0" r="0.35"/><circle cx="405.7" cy="73.3" r="0.35"/><circle cx="387.7" cy="72.2" r="0.35"/><circle cx="383.0" cy="49.5" r="0.35"/><circle cx="373.2" cy="66.1" r="0.35"/><circle cx="384.0" cy="51.0" r="0.35"/><circle cx="393.1" cy="71.0" r="0.35"/><circle cx="377.0" cy="46.0" r="0.35"/><circle cx="372.8" cy="55.0" r="0.35"/></g><path fill="none" stroke="#000" stroke-width="0.45" d="M381.5 62.0 380.2 61.5 379.6 60.8 379.8 59.5 379.3 58.0 379.2 57.0 379.2 56.5 379.8 56.1 380.4 56.2 380.7 56.8 380.7 59.2 381.1 59.5 383.0 59.6 383.2 59.9 383.5 60.8 383.8 61.0 383.8 61.3 382.8 61.4 381.5 62.0Z M381.8 63.0 381.0 62.8 379.5 62.0 378.7 61.2 378.4 60.0 378.3 56.5 378.5 55.6 379.2 54.9 380.5 54.3 381.8 54.1 382.5 54.3 384.4 56.2 385.3 60.0 385.1 61.2 384.5 62.1 383.5 62.7 381.8 63.0Z M382.5 63.5 381.8 63.6 381.0 63.4 378.8 62.2 378.1 61.2 377.7 60.0 377.6 56.8 377.9 55.5 379.4 54.0 380.8 53.4 382.0 53.4 382.8 53.6 383.8 54.6 385.0 55.4 385.3 56.0 385.8 59.8 385.5 61.2 385.2 62.0 384.5 62.7 383.8 63.1 382.5 63.5Z M398.5 58.5 398.0 58.7 397.2 58.4 396.2 58.5 395.5 58.3 395.1 57.8 395.2 57.0 395.8 56.6 396.5 56.6 397.2 58.0 398.4 58.0 398.5 58.5Z M382.2 64.0 381.0 63.8 378.5 62.5 377.6 61.2 377.1 59.5 377.2 56.8 377.6 55.2 379.5 53.4 381.0 52.9 382.2 52.9 383.0 53.1 385.5 55.2 385.8 56.0 386.2 59.2 386.1 60.8 385.2 62.5 383.8 63.5 382.2 64.0Z M398.0 61.3 397.2 61.2 396.0 59.7 394.3 58.8 394.1 58.2 394.1 57.8 394.5 56.5 395.0 55.9 397.5 55.0 398.8 54.9 399.2 55.1 399.6 55.8 399.9 57.0 400.3 60.0 399.7 60.8 398.0 61.3Z M382.8 64.3 381.8 64.4 381.0 64.2 378.5 62.9 377.4 61.5 376.8 59.5 376.8 57.0 377.3 55.2 377.8 54.5 379.0 53.4 379.8 52.9 380.8 52.6 382.2 52.6 383.5 53.0 385.5 54.6 386.2 56.0 386.6 59.5 386.1 61.5 385.5 62.5 384.8 63.2 383.8 63.9 382.8 64.3Z M398.2 62.1 397.2 62.2 396.5 62.0 395.2 60.2 393.5 59.2 393.3 58.8 393.3 58.0 393.9 56.2 395.0 55.3 398.8 54.1 400.0 54.1 401.2 54.6 402.5 54.8 403.0 55.2 403.7 56.8 403.6 57.5 403.1 58.2 403.1 59.8 402.8 60.1 401.2 60.5 399.8 61.6 398.2 62.1Z M383.0 64.5 382.0 64.6 381.0 64.5 378.2 63.0 377.1 61.5 376.4 59.2 376.4 57.0 377.1 55.0 379.0 53.1 380.8 52.3 382.5 52.3 383.8 52.8 385.8 54.5 386.3 55.2 386.6 56.2 386.8 59.5 386.3 61.5 385.8 62.5 385.0 63.4 384.0 64.1 383.0 64.5Z M398.2 62.5 397.2 62.7 396.2 62.5 393.0 59.9 392.6 59.2 392.5 58.5 393.1 56.8 393.8 55.8 394.5 55.2 398.0 53.8 400.0 53.5 402.8 54.0 403.8 55.0 404.5 56.8 404.5 57.8 403.8 60.0 403.0 60.6 401.5 61.0 400.0 62.0 398.2 62.5Z M403.8 49.8 403.2 49.8 401.8 49.2 401.1 48.5 401.1 47.8 401.5 46.8 402.2 45.9 402.8 45.9 403.1 46.2 403.3 47.5 403.9 49.0 403.8 49.8Z M399.5 47.3 398.8 47.1 398.8 46.5 399.2 46.4 399.5 46.6 399.7 47.0 399.5 47.3Z M383.0 64.8 382.0 64.9 381.0 64.7 378.2 63.3 377.1 62.0 376.1 59.2 376.2 57.0 377.0 54.8 379.0 52.8 380.8 52.0 382.8 52.1 384.2 52.8 386.1 54.5 386.8 56.2 387.1 59.5 386.4 61.8 385.9 62.8 385.0 63.7 383.0 64.8Z M398.8 62.8 397.5 63.0 396.2 62.9 393.6 61.5 392.5 60.2 392.0 59.2 392.0 58.2 392.3 57.2 393.1 56.0 394.0 55.1 397.5 53.6 399.8 53.1 402.8 53.5 404.1 54.5 404.9 56.0 405.0 57.5 404.4 59.8 403.9 60.5 403.2 60.9 401.8 61.4 400.0 62.4 398.8 62.8Z M403.5 51.6 402.5 51.7 401.5 51.1 400.8 50.9 400.0 50.9 398.8 51.3 397.8 51.0 397.5 50.2 398.3 49.0 397.4 47.0 397.4 46.5 397.7 46.0 399.0 45.2 400.5 45.2 402.0 44.8 403.2 44.8 404.1 45.2 404.5 46.0 404.5 47.2 404.9 48.8 405.0 49.8 404.6 50.8 403.5 51.6Z M383.0 65.0 382.0 65.1 380.8 64.9 378.0 63.4 376.9 62.0 375.7 59.0 375.9 56.8 376.9 54.5 379.0 52.6 380.8 51.8 382.8 51.9 384.8 52.8 386.4 54.5 386.9 55.2 387.1 56.2 387.3 59.5 386.7 61.8 386.1 62.8 385.2 63.7 384.0 64.6 383.0 65.0Z M399.0 63.0 397.5 63.2 396.2 63.2 393.5 62.1 392.6 61.2 391.7 59.8 391.4 58.8 391.6 58.0 392.6 56.0 394.2 54.6 399.0 52.6 400.0 52.5 402.2 52.6 403.8 53.6 405.2 55.2 405.5 57.0 405.2 58.8 404.6 60.0 403.8 61.0 401.8 61.8 400.2 62.7 399.0 63.0Z M399.0 63.3 396.2 63.4 394.2 62.9 393.2 62.4 392.5 61.8 391.6 60.5 391.1 59.2 391.1 58.2 391.8 56.5 393.0 55.1 397.7 52.5 397.6 52.0 396.6 51.0 396.3 50.2 396.5 48.5 396.1 46.8 396.4 45.8 396.8 45.4 400.5 43.8 403.5 44.1 405.0 45.0 405.6 46.0 405.5 50.5 405.1 51.2 404.0 52.2 403.8 52.8 405.6 55.2 405.8 57.0 405.7 58.5 405.0 60.0 404.0 61.2 402.0 62.0 400.5 62.9 399.0 63.3Z M383.0 65.3 382.0 65.4 380.8 65.1 378.0 63.7 376.9 62.5 376.0 60.5 374.9 59.0 375.5 56.5 376.5 54.5 379.0 52.3 381.0 51.5 382.8 51.7 385.0 52.7 386.6 54.2 387.4 55.8 387.5 59.5 386.9 61.8 386.4 62.8 385.5 63.8 384.0 64.9 383.0 65.3Z M399.0 63.5 396.2 63.6 393.2 62.9 392.4 62.2 391.5 61.2 390.7 59.5 390.5 58.8 391.1 57.2 392.3 55.2 393.2 54.5 396.2 53.0 396.8 52.5 396.6 52.0 395.6 50.8 395.2 49.5 395.1 47.5 395.3 46.0 395.6 45.2 396.5 44.5 398.5 44.0 399.8 42.7 400.2 42.5 404.2 43.7 405.8 45.0 406.4 46.0 406.6 47.2 405.9 50.8 404.7 52.5 404.6 53.0 406.0 55.0 406.2 57.8 405.7 59.5 404.2 61.3 400.5 63.1 399.0 63.5Z M383.2 65.5 382.2 65.6 380.8 65.4 378.0 64.1 376.9 63.0 375.8 60.8 374.5 59.9 374.2 59.2 374.9 56.5 376.0 54.5 379.0 52.1 381.0 51.3 382.5 51.4 385.0 52.3 386.2 53.2 388.0 55.0 388.3 55.5 387.9 57.2 387.8 59.8 387.2 62.0 385.7 64.0 384.5 64.9 383.2 65.5Z M399.0 63.8 396.0 63.8 394.2 63.5 393.0 63.1 391.8 62.2 391.1 61.5 390.0 58.8 390.3 57.8 392.0 55.0 392.8 54.4 395.1 53.2 395.9 52.5 395.8 52.0 394.8 50.8 394.6 50.0 394.4 47.5 394.5 46.0 394.8 45.2 396.0 44.0 398.2 43.4 399.5 42.1 400.2 41.9 402.2 42.6 404.0 43.1 405.0 43.7 406.6 45.2 407.1 46.2 407.3 47.2 406.8 49.0 406.5 51.0 405.3 53.0 406.2 54.5 406.4 55.2 406.6 58.0 406.2 59.5 405.1 61.0 404.2 61.7 400.5 63.4 399.0 63.8Z M383.5 65.8 382.2 66.0 380.8 65.7 377.2 64.2 376.8 63.7 375.5 61.4 374.2 60.5 373.7 59.5 373.8 58.8 374.4 56.5 375.4 54.2 379.0 51.8 381.0 51.0 382.5 51.1 386.5 52.5 387.5 53.6 388.6 54.5 389.1 55.2 389.1 56.0 388.5 57.8 388.5 59.5 387.7 62.0 386.0 64.2 383.5 65.8Z M383.8 66.3 383.0 66.5 382.0 66.4 379.0 65.4 377.2 65.3 376.4 64.8 375.5 62.6 373.8 60.9 373.2 59.5 373.3 58.8 374.4 55.0 375.0 53.8 377.2 52.7 379.2 51.3 381.2 50.5 382.2 50.5 384.2 51.2 386.8 51.6 387.5 51.9 389.7 54.8 390.0 56.8 390.5 56.4 391.3 54.8 392.0 54.0 394.2 53.2 394.9 52.8 395.0 52.5 394.8 52.2 394.2 52.0 393.0 52.1 392.6 51.5 393.6 50.2 393.8 49.5 393.4 46.0 394.2 44.8 395.0 44.0 396.0 43.3 398.0 42.8 399.2 41.5 400.0 41.3 404.2 42.7 406.0 43.9 407.4 45.8 407.9 47.5 407.3 49.5 407.3 51.2 406.3 53.0 406.8 55.0 407.0 58.8 406.6 59.8 405.0 61.7 404.2 62.2 402.5 62.8 400.0 63.9 398.0 64.2 394.8 64.0 393.2 63.6 391.5 62.8 390.3 62.5 390.1 62.0 390.0 60.6 389.5 60.2 389.0 60.8 389.0 62.0 388.6 62.5 386.8 64.3 383.8 66.3Z M390.8 50.9 389.5 49.8 388.9 48.8 389.1 48.0 390.0 47.4 391.0 47.6 391.4 48.2 391.4 49.8 391.1 50.5 390.8 50.9Z M383.5 67.0 382.5 67.0 379.0 66.3 377.2 66.2 376.2 65.7 375.6 65.0 375.0 63.2 373.3 61.2 372.6 59.5 373.8 55.6 374.1 53.8 374.5 53.0 375.0 52.7 377.0 52.3 378.8 51.0 380.5 50.2 381.5 49.5 382.5 48.3 382.8 48.3 383.5 50.0 384.2 50.5 385.2 50.7 388.3 50.8 388.4 50.2 387.7 48.5 388.0 47.5 388.5 46.7 389.2 46.1 391.0 45.3 392.5 45.1 392.9 44.8 393.1 44.0 392.6 42.8 393.0 42.2 393.5 42.2 394.8 42.8 397.2 42.4 398.0 42.0 399.2 40.4 399.8 40.3 404.2 42.2 406.0 43.3 407.9 45.5 408.4 46.5 408.6 47.5 408.6 48.2 408.3 49.8 408.6 51.8 408.3 53.0 407.5 54.5 407.4 55.2 407.7 57.2 408.5 58.8 408.5 59.2 408.3 59.8 406.8 60.7 405.2 62.7 404.5 63.2 402.8 63.2 400.8 64.2 398.5 64.6 395.8 64.4 393.8 64.4 392.0 63.8 391.5 63.7 388.8 64.3 387.5 65.1 386.0 65.6 384.5 66.7 383.5 67.0Z"/>
<rect x="362.50" y="36.5" width="69" height="68.80" fill="none" stroke="#111" stroke-width="1"/>
<rect x="389.50" y="38.5" width="25.00" height="32.3" fill="none" stroke="#111" stroke-width="1.15"/>
<line x1="389.50" y1="53.1" x2="414.50" y2="53.1" stroke="#111" stroke-width="1.3"/>
<text x="416.80" y="47.9" class="pc">12%</text>
<text x="416.80" y="65.0" class="pc">38%</text>
<line x1="360.70" y1="79.70" x2="362.50" y2="79.70" stroke="#111" stroke-width="0.8"/>
<line x1="361.20" y1="75.24" x2="362.50" y2="75.24" stroke="#111" stroke-width="0.8"/>
<line x1="361.20" y1="72.64" x2="362.50" y2="72.64" stroke="#111" stroke-width="0.8"/>
<line x1="361.20" y1="70.79" x2="362.50" y2="70.79" stroke="#111" stroke-width="0.8"/>
<line x1="361.20" y1="69.36" x2="362.50" y2="69.36" stroke="#111" stroke-width="0.8"/>
<line x1="361.20" y1="68.18" x2="362.50" y2="68.18" stroke="#111" stroke-width="0.8"/>
<line x1="361.20" y1="67.19" x2="362.50" y2="67.19" stroke="#111" stroke-width="0.8"/>
<line x1="361.20" y1="66.33" x2="362.50" y2="66.33" stroke="#111" stroke-width="0.8"/>
<line x1="361.20" y1="65.58" x2="362.50" y2="65.58" stroke="#111" stroke-width="0.8"/>
<line x1="360.70" y1="64.90" x2="362.50" y2="64.90" stroke="#111" stroke-width="0.8"/>
<line x1="361.20" y1="60.63" x2="362.50" y2="60.63" stroke="#111" stroke-width="0.8"/>
<line x1="361.20" y1="58.12" x2="362.50" y2="58.12" stroke="#111" stroke-width="0.8"/>
<line x1="361.20" y1="56.35" x2="362.50" y2="56.35" stroke="#111" stroke-width="0.8"/>
<line x1="361.20" y1="54.97" x2="362.50" y2="54.97" stroke="#111" stroke-width="0.8"/>
<line x1="361.20" y1="53.85" x2="362.50" y2="53.85" stroke="#111" stroke-width="0.8"/>
<line x1="361.20" y1="52.90" x2="362.50" y2="52.90" stroke="#111" stroke-width="0.8"/>
<line x1="361.20" y1="52.08" x2="362.50" y2="52.08" stroke="#111" stroke-width="0.8"/>
<line x1="361.20" y1="51.35" x2="362.50" y2="51.35" stroke="#111" stroke-width="0.8"/>
<line x1="360.70" y1="50.70" x2="362.50" y2="50.70" stroke="#111" stroke-width="0.8"/>
<line x1="361.20" y1="46.34" x2="362.50" y2="46.34" stroke="#111" stroke-width="0.8"/>
<line x1="361.20" y1="43.78" x2="362.50" y2="43.78" stroke="#111" stroke-width="0.8"/>
<line x1="361.20" y1="41.97" x2="362.50" y2="41.97" stroke="#111" stroke-width="0.8"/>
<line x1="361.20" y1="40.56" x2="362.50" y2="40.56" stroke="#111" stroke-width="0.8"/>
<line x1="360.70" y1="97.50" x2="362.50" y2="97.50" stroke="#111" stroke-width="0.8"/>
<line x1="361.20" y1="88.50" x2="362.50" y2="88.50" stroke="#111" stroke-width="0.8"/>
<line x1="361.20" y1="92.50" x2="362.50" y2="92.50" stroke="#111" stroke-width="0.8"/>
<line x1="361.20" y1="102.50" x2="362.50" y2="102.50" stroke="#111" stroke-width="0.8"/>
<line x1="361.20" y1="84.00" x2="362.50" y2="84.00" stroke="#111" stroke-width="0.8"/>
<line x1="387.30" y1="105.30" x2="387.30" y2="107.10" stroke="#111" stroke-width="0.8"/>
<line x1="391.70" y1="105.30" x2="391.70" y2="106.60" stroke="#111" stroke-width="0.8"/>
<line x1="394.27" y1="105.30" x2="394.27" y2="106.60" stroke="#111" stroke-width="0.8"/>
<line x1="396.09" y1="105.30" x2="396.09" y2="106.60" stroke="#111" stroke-width="0.8"/>
<line x1="397.50" y1="105.30" x2="397.50" y2="106.60" stroke="#111" stroke-width="0.8"/>
<line x1="398.66" y1="105.30" x2="398.66" y2="106.60" stroke="#111" stroke-width="0.8"/>
<line x1="399.64" y1="105.30" x2="399.64" y2="106.60" stroke="#111" stroke-width="0.8"/>
<line x1="400.49" y1="105.30" x2="400.49" y2="106.60" stroke="#111" stroke-width="0.8"/>
<line x1="401.23" y1="105.30" x2="401.23" y2="106.60" stroke="#111" stroke-width="0.8"/>
<line x1="401.90" y1="105.30" x2="401.90" y2="107.10" stroke="#111" stroke-width="0.8"/>
<line x1="406.36" y1="105.30" x2="406.36" y2="106.60" stroke="#111" stroke-width="0.8"/>
<line x1="408.96" y1="105.30" x2="408.96" y2="106.60" stroke="#111" stroke-width="0.8"/>
<line x1="410.81" y1="105.30" x2="410.81" y2="106.60" stroke="#111" stroke-width="0.8"/>
<line x1="412.24" y1="105.30" x2="412.24" y2="106.60" stroke="#111" stroke-width="0.8"/>
<line x1="413.42" y1="105.30" x2="413.42" y2="106.60" stroke="#111" stroke-width="0.8"/>
<line x1="414.41" y1="105.30" x2="414.41" y2="106.60" stroke="#111" stroke-width="0.8"/>
<line x1="415.27" y1="105.30" x2="415.27" y2="106.60" stroke="#111" stroke-width="0.8"/>
<line x1="416.02" y1="105.30" x2="416.02" y2="106.60" stroke="#111" stroke-width="0.8"/>
<line x1="416.70" y1="105.30" x2="416.70" y2="107.10" stroke="#111" stroke-width="0.8"/>
<line x1="421.16" y1="105.30" x2="421.16" y2="106.60" stroke="#111" stroke-width="0.8"/>
<line x1="423.76" y1="105.30" x2="423.76" y2="106.60" stroke="#111" stroke-width="0.8"/>
<line x1="425.61" y1="105.30" x2="425.61" y2="106.60" stroke="#111" stroke-width="0.8"/>
<line x1="427.04" y1="105.30" x2="427.04" y2="106.60" stroke="#111" stroke-width="0.8"/>
<line x1="370.70" y1="105.30" x2="370.70" y2="107.10" stroke="#111" stroke-width="0.8"/>
<line x1="366.50" y1="105.30" x2="366.50" y2="106.60" stroke="#111" stroke-width="0.8"/>
<line x1="375.00" y1="105.30" x2="375.00" y2="106.60" stroke="#111" stroke-width="0.8"/>
<line x1="379.00" y1="105.30" x2="379.00" y2="106.60" stroke="#111" stroke-width="0.8"/>
<line x1="383.00" y1="105.30" x2="383.00" y2="106.60" stroke="#111" stroke-width="0.8"/>
<text x="360.30" y="51.90" class="tl" transform="rotate(-90 358.90 50.70)" text-anchor="middle">10⁵</text>
<text x="360.30" y="66.10" class="tl" transform="rotate(-90 358.90 64.90)" text-anchor="middle">10⁴</text>
<text x="360.30" y="80.90" class="tl" transform="rotate(-90 358.90 79.70)" text-anchor="middle">10³</text>
<text x="359.10" y="98.80" class="tl" text-anchor="middle">0</text>
<text x="387.30" y="111.6" class="tl" text-anchor="middle">10³</text>
<text x="401.90" y="111.6" class="tl" text-anchor="middle">10⁴</text>
<text x="416.70" y="111.6" class="tl" text-anchor="middle">10⁵</text>
<text x="370.70" y="111.6" class="tl" text-anchor="middle">0</text>
<text x="478.00" y="30.6" class="ft">26 weeks</text>
<ellipse cx="462" cy="58.5" rx="9" ry="8.5" fill="#b8b8b8" filter="url(#speck)" transform="rotate(0 462 58.5)"/><ellipse cx="480.5" cy="53.5" rx="9.5" ry="10" fill="#c4c4c4" filter="url(#speck)" transform="rotate(0 480.5 53.5)"/><g fill="#555"><circle cx="467.3" cy="45.1" r="0.35"/><circle cx="469.4" cy="67.7" r="0.35"/><circle cx="473.3" cy="71.3" r="0.35"/><circle cx="449.8" cy="71.1" r="0.35"/><circle cx="473.0" cy="54.5" r="0.35"/><circle cx="448.8" cy="58.2" r="0.35"/><circle cx="449.0" cy="49.7" r="0.35"/><circle cx="488.3" cy="55.8" r="0.35"/><circle cx="467.1" cy="49.9" r="0.35"/><circle cx="491.4" cy="54.3" r="0.35"/><circle cx="491.4" cy="50.1" r="0.35"/><circle cx="456.2" cy="45.3" r="0.35"/><circle cx="467.3" cy="71.0" r="0.35"/><circle cx="475.0" cy="70.3" r="0.35"/><circle cx="470.0" cy="38.9" r="0.35"/><circle cx="451.2" cy="49.1" r="0.35"/><circle cx="463.1" cy="70.7" r="0.35"/><circle cx="469.2" cy="60.4" r="0.35"/><circle cx="488.5" cy="58.7" r="0.35"/><circle cx="477.8" cy="43.6" r="0.35"/><circle cx="475.7" cy="65.1" r="0.35"/><circle cx="471.4" cy="61.6" r="0.35"/><circle cx="465.6" cy="46.1" r="0.35"/><circle cx="477.8" cy="66.2" r="0.35"/><circle cx="484.2" cy="42.4" r="0.35"/><circle cx="479.4" cy="37.5" r="0.35"/><circle cx="487.5" cy="50.6" r="0.35"/><circle cx="465.4" cy="67.4" r="0.35"/><circle cx="474.7" cy="53.4" r="0.35"/><circle cx="458.8" cy="50.2" r="0.35"/><circle cx="484.8" cy="75.6" r="0.35"/><circle cx="456.1" cy="62.7" r="0.35"/><circle cx="480.3" cy="65.0" r="0.35"/><circle cx="474.3" cy="54.4" r="0.35"/><circle cx="473.2" cy="69.3" r="0.35"/><circle cx="468.8" cy="64.2" r="0.35"/><circle cx="473.9" cy="62.7" r="0.35"/><circle cx="450.5" cy="53.4" r="0.35"/><circle cx="471.8" cy="48.4" r="0.35"/><circle cx="463.5" cy="48.0" r="0.35"/><circle cx="472.2" cy="61.2" r="0.35"/><circle cx="454.7" cy="54.7" r="0.35"/><circle cx="498.0" cy="45.8" r="0.35"/><circle cx="472.3" cy="52.9" r="0.35"/><circle cx="475.7" cy="37.9" r="0.35"/><circle cx="463.1" cy="69.6" r="0.35"/><circle cx="453.6" cy="52.8" r="0.35"/><circle cx="466.0" cy="47.9" r="0.35"/><circle cx="467.5" cy="64.4" r="0.35"/><circle cx="447.0" cy="57.2" r="0.35"/><circle cx="471.4" cy="48.2" r="0.35"/><circle cx="475.5" cy="67.0" r="0.35"/><circle cx="463.8" cy="51.1" r="0.35"/><circle cx="494.8" cy="47.7" r="0.35"/><circle cx="479.2" cy="39.1" r="0.35"/><circle cx="470.4" cy="53.0" r="0.35"/><circle cx="455.4" cy="59.2" r="0.35"/><circle cx="469.4" cy="47.8" r="0.35"/><circle cx="486.8" cy="39.8" r="0.35"/><circle cx="445.5" cy="58.2" r="0.35"/><circle cx="489.4" cy="45.9" r="0.35"/><circle cx="456.9" cy="64.7" r="0.35"/><circle cx="494.9" cy="50.4" r="0.35"/><circle cx="485.9" cy="37.5" r="0.35"/><circle cx="455.2" cy="56.7" r="0.35"/><circle cx="480.0" cy="66.4" r="0.35"/><circle cx="479.1" cy="41.8" r="0.35"/><circle cx="472.3" cy="47.8" r="0.35"/><circle cx="467.0" cy="69.8" r="0.35"/><circle cx="489.2" cy="62.7" r="0.35"/><circle cx="473.8" cy="52.5" r="0.35"/><circle cx="488.8" cy="40.3" r="0.35"/><circle cx="475.7" cy="73.8" r="0.35"/><circle cx="471.7" cy="57.5" r="0.35"/><circle cx="472.9" cy="42.9" r="0.35"/><circle cx="462.7" cy="67.7" r="0.35"/><circle cx="482.5" cy="70.6" r="0.35"/><circle cx="485.8" cy="72.9" r="0.35"/><circle cx="478.8" cy="65.1" r="0.35"/><circle cx="450.4" cy="58.7" r="0.35"/><circle cx="461.2" cy="71.2" r="0.35"/><circle cx="469.7" cy="67.9" r="0.35"/><circle cx="488.7" cy="38.2" r="0.35"/><circle cx="462.8" cy="50.3" r="0.35"/><circle cx="469.0" cy="69.2" r="0.35"/><circle cx="475.1" cy="64.4" r="0.35"/><circle cx="469.3" cy="62.2" r="0.35"/><circle cx="455.0" cy="69.3" r="0.35"/><circle cx="494.2" cy="52.2" r="0.35"/><circle cx="480.8" cy="71.8" r="0.35"/><circle cx="459.2" cy="50.5" r="0.35"/><circle cx="471.0" cy="53.7" r="0.35"/><circle cx="482.7" cy="64.5" r="0.35"/><circle cx="476.9" cy="38.8" r="0.35"/><circle cx="456.9" cy="53.5" r="0.35"/><circle cx="471.4" cy="53.8" r="0.35"/><circle cx="476.2" cy="42.4" r="0.35"/><circle cx="462.5" cy="45.3" r="0.35"/><circle cx="490.3" cy="58.4" r="0.35"/><circle cx="492.0" cy="66.5" r="0.35"/><circle cx="446.4" cy="63.2" r="0.35"/><circle cx="493.6" cy="52.3" r="0.35"/><circle cx="461.9" cy="49.4" r="0.35"/><circle cx="467.7" cy="71.3" r="0.35"/><circle cx="455.1" cy="45.2" r="0.35"/><circle cx="470.2" cy="50.0" r="0.35"/><circle cx="483.0" cy="37.0" r="0.35"/><circle cx="472.0" cy="55.6" r="0.35"/><circle cx="489.5" cy="47.2" r="0.35"/><circle cx="454.0" cy="56.2" r="0.35"/><circle cx="486.8" cy="55.8" r="0.35"/><circle cx="470.8" cy="67.5" r="0.35"/><circle cx="470.3" cy="56.2" r="0.35"/><circle cx="470.0" cy="57.2" r="0.35"/><circle cx="452.3" cy="53.7" r="0.35"/><circle cx="472.4" cy="62.4" r="0.35"/><circle cx="476.8" cy="42.4" r="0.35"/><circle cx="468.3" cy="70.1" r="0.35"/><circle cx="486.5" cy="63.8" r="0.35"/><circle cx="476.0" cy="44.0" r="0.35"/></g><path fill="none" stroke="#000" stroke-width="0.45" d="M463.0 61.8 462.5 62.0 461.7 61.8 461.4 61.2 461.5 60.8 462.2 60.3 463.0 60.4 463.4 61.2 463.0 61.8Z M461.2 57.8 460.8 58.0 460.5 57.8 460.4 57.0 460.8 56.6 461.2 56.6 461.5 56.9 461.5 57.2 461.2 57.8Z M463.0 62.8 461.8 62.5 460.8 61.9 460.4 61.0 460.7 59.8 461.2 59.0 463.8 58.5 464.5 56.8 465.2 56.6 465.8 57.2 465.7 58.8 465.5 59.0 464.8 59.3 464.5 59.5 464.4 62.0 463.9 62.5 463.0 62.8Z M464.0 63.3 463.0 63.4 462.2 63.2 461.0 62.7 460.4 62.2 460.0 61.2 459.7 57.8 459.8 56.8 460.5 55.9 461.2 55.6 462.4 55.5 463.5 54.8 465.8 55.9 466.2 56.2 466.7 59.2 466.5 60.2 465.7 61.2 465.2 62.5 464.8 62.9 464.0 63.3Z M464.0 63.8 463.0 63.9 462.2 63.7 460.8 63.0 460.1 62.5 459.6 61.2 459.3 58.2 459.4 56.8 460.0 55.8 462.5 53.9 463.2 53.7 464.1 54.0 466.4 55.8 466.8 56.5 467.2 59.0 467.0 60.3 465.9 62.5 465.0 63.4 464.0 63.8Z M464.5 64.0 463.8 64.2 462.8 64.2 460.5 63.2 459.7 62.2 459.2 60.2 459.0 57.8 459.3 56.2 460.0 55.3 461.0 54.4 462.1 53.5 463.0 53.2 464.2 53.5 466.5 55.2 467.0 56.2 467.5 58.5 467.3 60.2 466.5 62.2 465.7 63.2 464.5 64.0Z M480.8 61.3 480.5 61.2 480.3 60.8 480.6 59.2 481.5 58.4 482.2 58.4 482.8 59.0 482.8 59.8 482.0 60.5 480.8 61.3Z M478.0 60.0 477.6 60.0 477.5 59.6 478.3 59.5 478.4 59.8 478.0 60.0Z M463.8 64.5 462.2 64.3 460.8 63.6 459.9 63.0 459.1 61.5 458.8 59.2 458.8 57.0 459.3 55.8 461.2 53.7 462.2 53.0 463.0 52.8 463.8 53.0 464.5 53.3 466.0 54.3 466.7 55.0 467.2 56.0 467.7 58.8 467.4 60.8 466.3 63.0 465.0 64.1 463.8 64.5Z M481.2 62.5 480.0 62.5 477.0 61.3 476.1 60.5 475.7 59.2 476.2 58.5 478.5 57.3 480.5 57.6 482.2 56.3 483.0 56.3 483.5 56.5 484.0 57.1 484.6 59.0 484.4 59.5 482.0 62.0 481.2 62.5Z M463.8 64.8 462.2 64.6 459.9 63.2 459.1 62.0 458.6 59.5 458.6 57.0 459.2 55.5 461.0 53.5 462.0 52.9 463.0 52.6 464.2 52.9 466.0 54.0 466.9 54.8 467.4 55.8 468.0 58.8 467.7 60.8 466.6 63.0 465.5 64.1 464.5 64.6 463.8 64.8Z M481.8 63.1 480.5 63.2 478.0 62.8 477.2 62.5 475.2 60.8 474.2 59.2 474.1 58.5 476.2 56.8 478.4 55.5 479.0 55.5 480.2 56.5 480.8 56.4 482.2 55.4 483.5 55.7 484.4 56.5 485.3 57.8 485.7 58.5 485.8 59.2 485.5 59.8 484.0 60.8 482.7 62.5 481.8 63.1Z M464.5 64.9 463.5 65.0 462.5 64.9 460.0 63.7 459.1 62.5 458.4 60.0 458.3 57.2 458.9 55.5 460.6 53.5 461.5 52.9 462.8 52.4 463.5 52.4 464.2 52.6 466.0 53.7 467.0 54.5 467.6 55.8 468.1 58.2 468.1 59.8 467.2 62.5 466.0 64.0 464.5 64.9Z M481.8 63.6 478.2 63.4 476.8 62.9 474.8 61.2 473.5 59.5 473.3 58.8 473.6 58.0 475.5 56.1 478.2 54.9 479.0 54.8 480.5 55.2 482.8 54.9 483.8 55.2 486.0 57.7 486.4 58.5 486.4 59.5 486.1 60.2 484.5 61.2 483.3 62.8 481.8 63.6Z M484.2 49.8 484.0 49.7 483.9 49.2 484.0 47.8 485.1 47.0 485.8 46.9 486.2 47.1 486.5 47.8 486.2 48.4 485.5 49.1 484.2 49.8Z M464.5 65.1 463.5 65.2 462.5 65.1 460.8 64.4 459.8 63.7 458.8 62.5 458.1 60.0 458.1 57.2 458.7 55.5 460.2 53.5 461.5 52.6 462.8 52.1 463.5 52.1 464.2 52.4 467.1 54.2 467.7 55.2 468.4 58.5 468.1 60.5 467.1 63.0 466.0 64.2 464.5 65.1Z M482.2 63.8 481.2 64.0 478.2 63.8 476.6 63.2 474.4 61.5 473.1 59.8 472.8 58.8 473.2 57.8 475.0 55.8 478.2 54.4 480.5 54.6 482.5 54.4 483.8 54.7 486.3 57.2 486.8 58.5 486.8 59.8 486.4 60.8 485.0 61.7 484.1 62.8 482.2 63.8Z M483.8 52.3 482.2 52.5 481.4 52.2 481.1 51.8 480.8 50.5 480.0 49.8 479.5 49.7 478.0 50.5 476.2 49.7 474.8 49.6 474.1 49.0 474.1 48.2 474.8 47.8 476.2 48.1 477.5 46.8 478.8 46.3 479.7 45.2 480.8 44.7 481.5 45.0 482.4 46.0 483.0 46.3 485.5 46.1 486.5 46.3 487.5 47.2 487.7 47.8 487.6 48.2 484.5 51.8 483.8 52.3Z M464.5 65.3 463.2 65.4 462.0 65.2 459.5 63.9 458.9 63.2 458.4 62.2 457.8 60.0 457.8 56.8 458.6 55.0 460.2 53.1 461.5 52.3 462.8 51.9 463.5 51.9 464.2 52.2 466.2 53.3 467.4 54.2 467.9 55.0 468.7 58.5 468.4 60.2 467.4 63.0 466.2 64.3 464.5 65.3Z M482.2 64.1 481.0 64.2 477.2 64.0 476.5 63.7 474.1 61.8 472.7 59.8 472.4 58.8 472.8 57.8 474.2 55.8 475.8 54.9 478.0 54.1 482.0 53.9 483.8 54.3 486.2 56.6 486.9 57.5 487.2 58.5 487.2 59.8 486.9 60.8 484.4 63.0 482.2 64.1Z M482.2 64.3 481.2 64.5 478.5 64.5 476.5 64.1 473.6 61.8 472.2 59.8 472.0 59.0 472.1 58.2 472.5 57.5 473.7 55.8 474.5 55.1 476.0 54.4 478.2 53.6 480.0 53.6 480.7 53.2 480.4 52.8 479.8 52.2 478.2 52.1 476.2 51.2 473.8 50.6 473.2 50.2 473.1 49.2 473.3 48.2 473.8 47.2 474.2 46.7 475.8 46.1 476.6 45.0 477.2 44.7 478.8 44.7 480.2 43.8 481.0 43.6 481.9 43.8 483.4 45.2 486.8 45.8 488.2 47.0 488.6 47.8 488.5 48.2 488.1 49.0 486.5 50.5 483.8 53.5 485.2 55.2 486.7 56.5 487.2 57.2 487.5 58.8 487.4 60.5 486.8 61.5 485.0 63.0 482.2 64.3Z M464.5 65.6 463.5 65.7 462.2 65.5 459.0 64.1 456.8 61.5 456.3 59.5 456.3 58.5 456.5 57.2 458.4 54.2 459.4 53.2 461.8 51.9 462.8 51.6 463.5 51.6 464.2 51.9 468.2 54.4 468.5 55.0 468.5 56.8 469.3 58.8 469.2 59.2 467.3 63.5 466.2 64.6 464.5 65.6Z M481.2 64.8 477.5 64.7 476.2 64.4 473.2 62.0 471.6 60.0 471.3 59.2 471.6 58.2 473.8 55.1 475.5 54.1 477.0 53.5 477.5 53.0 476.8 52.5 473.2 51.9 472.3 51.2 472.1 50.8 472.1 50.0 473.3 46.5 473.8 46.0 475.1 45.2 476.5 44.1 478.5 43.9 480.0 43.0 481.2 42.9 482.2 43.2 483.8 44.5 486.2 45.1 487.2 45.6 489.0 47.0 489.3 48.0 489.1 48.8 488.8 49.4 486.0 51.8 484.8 53.2 484.7 53.8 485.3 54.8 487.1 56.5 487.6 57.5 487.8 59.0 487.5 61.0 486.8 62.0 485.0 63.3 482.2 64.6 481.2 64.8Z M464.8 65.8 463.0 65.9 460.5 65.1 458.8 64.9 456.0 62.1 455.7 61.5 455.7 60.0 455.5 57.0 456.6 55.5 457.3 54.0 459.0 52.5 462.8 51.2 464.0 51.3 466.7 53.0 469.2 54.0 469.7 55.0 469.6 57.0 470.5 59.0 470.3 59.8 468.8 60.9 468.1 62.8 467.2 64.2 466.2 65.1 464.8 65.8Z M464.8 66.3 463.2 66.3 460.5 65.6 458.5 65.6 457.0 63.8 454.9 62.0 455.1 59.8 454.6 57.2 454.6 56.5 455.8 55.2 456.7 53.8 458.8 51.8 459.5 51.4 461.5 50.9 463.2 50.6 464.5 50.9 465.7 52.0 467.5 52.8 469.0 53.0 470.0 52.8 470.5 52.0 470.6 50.5 471.8 49.0 472.6 46.2 473.0 45.5 475.5 43.8 479.0 42.3 481.2 42.3 482.0 42.4 484.2 44.0 487.2 45.0 489.4 46.8 489.9 48.2 490.0 49.2 489.9 49.8 489.3 50.2 487.2 51.4 486.0 52.7 485.4 53.8 485.4 54.2 485.8 54.8 487.6 56.5 488.1 58.0 487.9 60.8 487.4 61.8 486.5 62.7 484.8 63.8 482.2 64.9 476.8 65.3 476.2 65.2 474.8 63.5 472.0 61.8 470.4 61.2 469.8 61.2 469.2 61.5 468.7 63.0 467.3 65.0 465.8 65.9 464.8 66.3Z M471.5 57.2 472.5 56.0 472.6 55.2 472.5 55.0 471.8 55.0 471.0 56.0 470.8 56.8 471.0 57.2 471.2 57.4 471.5 57.2Z"/>
<rect x="443.50" y="36.5" width="69" height="68.80" fill="none" stroke="#111" stroke-width="1"/>
<rect x="470.50" y="38.5" width="26.00" height="32.3" fill="none" stroke="#111" stroke-width="1.15"/>
<line x1="470.50" y1="53.1" x2="496.50" y2="53.1" stroke="#111" stroke-width="1.3"/>
<text x="498.80" y="47.9" class="pc">11%</text>
<text x="498.80" y="65.0" class="pc">39%</text>
<line x1="441.70" y1="79.70" x2="443.50" y2="79.70" stroke="#111" stroke-width="0.8"/>
<line x1="442.20" y1="75.24" x2="443.50" y2="75.24" stroke="#111" stroke-width="0.8"/>
<line x1="442.20" y1="72.64" x2="443.50" y2="72.64" stroke="#111" stroke-width="0.8"/>
<line x1="442.20" y1="70.79" x2="443.50" y2="70.79" stroke="#111" stroke-width="0.8"/>
<line x1="442.20" y1="69.36" x2="443.50" y2="69.36" stroke="#111" stroke-width="0.8"/>
<line x1="442.20" y1="68.18" x2="443.50" y2="68.18" stroke="#111" stroke-width="0.8"/>
<line x1="442.20" y1="67.19" x2="443.50" y2="67.19" stroke="#111" stroke-width="0.8"/>
<line x1="442.20" y1="66.33" x2="443.50" y2="66.33" stroke="#111" stroke-width="0.8"/>
<line x1="442.20" y1="65.58" x2="443.50" y2="65.58" stroke="#111" stroke-width="0.8"/>
<line x1="441.70" y1="64.90" x2="443.50" y2="64.90" stroke="#111" stroke-width="0.8"/>
<line x1="442.20" y1="60.63" x2="443.50" y2="60.63" stroke="#111" stroke-width="0.8"/>
<line x1="442.20" y1="58.12" x2="443.50" y2="58.12" stroke="#111" stroke-width="0.8"/>
<line x1="442.20" y1="56.35" x2="443.50" y2="56.35" stroke="#111" stroke-width="0.8"/>
<line x1="442.20" y1="54.97" x2="443.50" y2="54.97" stroke="#111" stroke-width="0.8"/>
<line x1="442.20" y1="53.85" x2="443.50" y2="53.85" stroke="#111" stroke-width="0.8"/>
<line x1="442.20" y1="52.90" x2="443.50" y2="52.90" stroke="#111" stroke-width="0.8"/>
<line x1="442.20" y1="52.08" x2="443.50" y2="52.08" stroke="#111" stroke-width="0.8"/>
<line x1="442.20" y1="51.35" x2="443.50" y2="51.35" stroke="#111" stroke-width="0.8"/>
<line x1="441.70" y1="50.70" x2="443.50" y2="50.70" stroke="#111" stroke-width="0.8"/>
<line x1="442.20" y1="46.34" x2="443.50" y2="46.34" stroke="#111" stroke-width="0.8"/>
<line x1="442.20" y1="43.78" x2="443.50" y2="43.78" stroke="#111" stroke-width="0.8"/>
<line x1="442.20" y1="41.97" x2="443.50" y2="41.97" stroke="#111" stroke-width="0.8"/>
<line x1="442.20" y1="40.56" x2="443.50" y2="40.56" stroke="#111" stroke-width="0.8"/>
<line x1="441.70" y1="97.50" x2="443.50" y2="97.50" stroke="#111" stroke-width="0.8"/>
<line x1="442.20" y1="88.50" x2="443.50" y2="88.50" stroke="#111" stroke-width="0.8"/>
<line x1="442.20" y1="92.50" x2="443.50" y2="92.50" stroke="#111" stroke-width="0.8"/>
<line x1="442.20" y1="102.50" x2="443.50" y2="102.50" stroke="#111" stroke-width="0.8"/>
<line x1="442.20" y1="84.00" x2="443.50" y2="84.00" stroke="#111" stroke-width="0.8"/>
<line x1="468.30" y1="105.30" x2="468.30" y2="107.10" stroke="#111" stroke-width="0.8"/>
<line x1="472.70" y1="105.30" x2="472.70" y2="106.60" stroke="#111" stroke-width="0.8"/>
<line x1="475.27" y1="105.30" x2="475.27" y2="106.60" stroke="#111" stroke-width="0.8"/>
<line x1="477.09" y1="105.30" x2="477.09" y2="106.60" stroke="#111" stroke-width="0.8"/>
<line x1="478.50" y1="105.30" x2="478.50" y2="106.60" stroke="#111" stroke-width="0.8"/>
<line x1="479.66" y1="105.30" x2="479.66" y2="106.60" stroke="#111" stroke-width="0.8"/>
<line x1="480.64" y1="105.30" x2="480.64" y2="106.60" stroke="#111" stroke-width="0.8"/>
<line x1="481.49" y1="105.30" x2="481.49" y2="106.60" stroke="#111" stroke-width="0.8"/>
<line x1="482.23" y1="105.30" x2="482.23" y2="106.60" stroke="#111" stroke-width="0.8"/>
<line x1="482.90" y1="105.30" x2="482.90" y2="107.10" stroke="#111" stroke-width="0.8"/>
<line x1="487.36" y1="105.30" x2="487.36" y2="106.60" stroke="#111" stroke-width="0.8"/>
<line x1="489.96" y1="105.30" x2="489.96" y2="106.60" stroke="#111" stroke-width="0.8"/>
<line x1="491.81" y1="105.30" x2="491.81" y2="106.60" stroke="#111" stroke-width="0.8"/>
<line x1="493.24" y1="105.30" x2="493.24" y2="106.60" stroke="#111" stroke-width="0.8"/>
<line x1="494.42" y1="105.30" x2="494.42" y2="106.60" stroke="#111" stroke-width="0.8"/>
<line x1="495.41" y1="105.30" x2="495.41" y2="106.60" stroke="#111" stroke-width="0.8"/>
<line x1="496.27" y1="105.30" x2="496.27" y2="106.60" stroke="#111" stroke-width="0.8"/>
<line x1="497.02" y1="105.30" x2="497.02" y2="106.60" stroke="#111" stroke-width="0.8"/>
<line x1="497.70" y1="105.30" x2="497.70" y2="107.10" stroke="#111" stroke-width="0.8"/>
<line x1="502.16" y1="105.30" x2="502.16" y2="106.60" stroke="#111" stroke-width="0.8"/>
<line x1="504.76" y1="105.30" x2="504.76" y2="106.60" stroke="#111" stroke-width="0.8"/>
<line x1="506.61" y1="105.30" x2="506.61" y2="106.60" stroke="#111" stroke-width="0.8"/>
<line x1="508.04" y1="105.30" x2="508.04" y2="106.60" stroke="#111" stroke-width="0.8"/>
<line x1="451.70" y1="105.30" x2="451.70" y2="107.10" stroke="#111" stroke-width="0.8"/>
<line x1="447.50" y1="105.30" x2="447.50" y2="106.60" stroke="#111" stroke-width="0.8"/>
<line x1="456.00" y1="105.30" x2="456.00" y2="106.60" stroke="#111" stroke-width="0.8"/>
<line x1="460.00" y1="105.30" x2="460.00" y2="106.60" stroke="#111" stroke-width="0.8"/>
<line x1="464.00" y1="105.30" x2="464.00" y2="106.60" stroke="#111" stroke-width="0.8"/>
<text x="441.30" y="51.90" class="tl" transform="rotate(-90 439.90 50.70)" text-anchor="middle">10⁵</text>
<text x="441.30" y="66.10" class="tl" transform="rotate(-90 439.90 64.90)" text-anchor="middle">10⁴</text>
<text x="441.30" y="80.90" class="tl" transform="rotate(-90 439.90 79.70)" text-anchor="middle">10³</text>
<text x="440.10" y="98.80" class="tl" text-anchor="middle">0</text>
<text x="468.30" y="111.6" class="tl" text-anchor="middle">10³</text>
<text x="482.90" y="111.6" class="tl" text-anchor="middle">10⁴</text>
<text x="497.70" y="111.6" class="tl" text-anchor="middle">10⁵</text>
<text x="451.70" y="111.6" class="tl" text-anchor="middle">0</text>
<text x="0" y="0" class="at" transform="translate(13.7 265.2) rotate(-90) scale(1.1 1)" text-anchor="middle"><tspan>Percent CD56</tspan><tspan class="sup" dy="-3.6">bright</tspan><tspan dy="3.6"> of total NK cells</tspan></text>
<line x1="45.2" y1="201.90" x2="45.2" y2="335.35" class="ax"/>
<line x1="44.45" y1="334.6" x2="178.0" y2="334.6" class="ax"/>
<line x1="41.2" y1="334.60" x2="45.2" y2="334.60" class="tk"/>
<text x="40.0" y="338.80" class="yl">0</text>
<line x1="41.2" y1="308.20" x2="45.2" y2="308.20" class="tk"/>
<text x="40.0" y="312.40" class="yl">10</text>
<line x1="41.2" y1="281.80" x2="45.2" y2="281.80" class="tk"/>
<text x="40.0" y="286.00" class="yl">20</text>
<line x1="41.2" y1="255.40" x2="45.2" y2="255.40" class="tk"/>
<text x="40.0" y="259.60" class="yl">30</text>
<line x1="41.2" y1="229.00" x2="45.2" y2="229.00" class="tk"/>
<text x="40.0" y="233.20" class="yl">40</text>
<line x1="41.2" y1="202.60" x2="45.2" y2="202.60" class="tk"/>
<text x="40.0" y="206.80" class="yl">50</text>
<line x1="42.7" y1="321.40" x2="45.2" y2="321.40" class="tk"/>
<line x1="42.7" y1="295.00" x2="45.2" y2="295.00" class="tk"/>
<line x1="42.7" y1="268.60" x2="45.2" y2="268.60" class="tk"/>
<line x1="42.7" y1="242.20" x2="45.2" y2="242.20" class="tk"/>
<line x1="42.7" y1="215.80" x2="45.2" y2="215.80" class="tk"/>
<line x1="50.00" y1="334.6" x2="50.00" y2="338.6" class="tk"/>
<line x1="59.48" y1="334.6" x2="59.48" y2="337.1" class="tk"/>
<line x1="68.96" y1="334.6" x2="68.96" y2="338.6" class="tk"/>
<line x1="78.44" y1="334.6" x2="78.44" y2="337.1" class="tk"/>
<line x1="87.92" y1="334.6" x2="87.92" y2="338.6" class="tk"/>
<line x1="97.40" y1="334.6" x2="97.40" y2="337.1" class="tk"/>
<line x1="106.88" y1="334.6" x2="106.88" y2="338.6" class="tk"/>
<line x1="116.36" y1="334.6" x2="116.36" y2="337.1" class="tk"/>
<line x1="125.84" y1="334.6" x2="125.84" y2="338.6" class="tk"/>
<line x1="135.32" y1="334.6" x2="135.32" y2="337.1" class="tk"/>
<line x1="144.80" y1="334.6" x2="144.80" y2="338.6" class="tk"/>
<line x1="154.28" y1="334.6" x2="154.28" y2="337.1" class="tk"/>
<line x1="163.76" y1="334.6" x2="163.76" y2="338.6" class="tk"/>
<line x1="173.24" y1="334.6" x2="173.24" y2="337.1" class="tk"/>
<text x="0" y="0" class="xl" transform="translate(53.10 347.10) rotate(-45)">(Donor) 0</text>
<text x="0" y="0" class="xl" transform="translate(72.06 347.10) rotate(-45)">4</text>
<text x="0" y="0" class="xl" transform="translate(91.02 347.10) rotate(-45)">8</text>
<text x="0" y="0" class="xl" transform="translate(109.98 347.10) rotate(-45)">12</text>
<text x="0" y="0" class="xl" transform="translate(128.94 347.10) rotate(-45)">16</text>
<text x="0" y="0" class="xl" transform="translate(147.90 347.10) rotate(-45)">20</text>
<text x="0" y="0" class="xl" transform="translate(166.86 347.10) rotate(-45)">24</text>
<polyline points="50.00,300.28 59.48,258.04 68.96,262.53 87.92,288.14 106.88,291.30 173.24,306.09" fill="none" stroke="#111" stroke-width="1.6" stroke-linejoin="round"/>
<line x1="50.00" y1="292.36" x2="50.00" y2="310.05" stroke="#111" stroke-width="1.4"/>
<line x1="46.80" y1="292.36" x2="53.20" y2="292.36" stroke="#111" stroke-width="1.4"/>
<line x1="46.80" y1="310.05" x2="53.20" y2="310.05" stroke="#111" stroke-width="1.4"/>
<polygon points="46.80,297.48 53.20,297.48 50.00,303.58" fill="#111"/>
<line x1="59.48" y1="230.06" x2="59.48" y2="285.76" stroke="#111" stroke-width="1.4"/>
<line x1="56.28" y1="230.06" x2="62.68" y2="230.06" stroke="#111" stroke-width="1.4"/>
<line x1="56.28" y1="285.76" x2="62.68" y2="285.76" stroke="#111" stroke-width="1.4"/>
<polygon points="56.28,255.24 62.68,255.24 59.48,261.34" fill="#111"/>
<line x1="68.96" y1="249.59" x2="68.96" y2="276.52" stroke="#111" stroke-width="1.4"/>
<line x1="65.76" y1="249.59" x2="72.16" y2="249.59" stroke="#111" stroke-width="1.4"/>
<line x1="65.76" y1="276.52" x2="72.16" y2="276.52" stroke="#111" stroke-width="1.4"/>
<polygon points="65.76,259.73 72.16,259.73 68.96,265.83" fill="#111"/>
<line x1="87.92" y1="278.10" x2="87.92" y2="298.43" stroke="#111" stroke-width="1.4"/>
<line x1="84.72" y1="278.10" x2="91.12" y2="278.10" stroke="#111" stroke-width="1.4"/>
<line x1="84.72" y1="298.43" x2="91.12" y2="298.43" stroke="#111" stroke-width="1.4"/>
<polygon points="84.72,285.34 91.12,285.34 87.92,291.44" fill="#111"/>
<line x1="106.88" y1="281.80" x2="106.88" y2="303.18" stroke="#111" stroke-width="1.4"/>
<line x1="103.68" y1="281.80" x2="110.08" y2="281.80" stroke="#111" stroke-width="1.4"/>
<line x1="103.68" y1="303.18" x2="110.08" y2="303.18" stroke="#111" stroke-width="1.4"/>
<polygon points="103.68,288.50 110.08,288.50 106.88,294.60" fill="#111"/>
<line x1="173.24" y1="302.92" x2="173.24" y2="310.84" stroke="#111" stroke-width="1.4"/>
<line x1="170.04" y1="302.92" x2="176.44" y2="302.92" stroke="#111" stroke-width="1.4"/>
<line x1="170.04" y1="310.84" x2="176.44" y2="310.84" stroke="#111" stroke-width="1.4"/>
<polygon points="170.04,303.29 176.44,303.29 173.24,309.39" fill="#111"/>
<text x="0" y="0" class="at" transform="translate(193.4 266.7) rotate(-90) scale(1.088 1)" text-anchor="middle"><tspan>Percent NKG2A</tspan><tspan class="sup2" dy="-4.5">+</tspan><tspan dy="4.5"> of CD56</tspan><tspan class="sup" dy="-3.6">dim</tspan><tspan dy="3.6"> NK cells</tspan></text>
<line x1="224.4" y1="201.80" x2="224.4" y2="335.15" class="ax"/>
<line x1="223.65" y1="334.4" x2="357.0" y2="334.4" class="ax"/>
<line x1="220.4" y1="334.40" x2="224.4" y2="334.40" class="tk"/>
<text x="219.20000000000002" y="338.60" class="yl">0</text>
<line x1="220.4" y1="308.02" x2="224.4" y2="308.02" class="tk"/>
<text x="219.20000000000002" y="312.22" class="yl">20</text>
<line x1="220.4" y1="281.64" x2="224.4" y2="281.64" class="tk"/>
<text x="219.20000000000002" y="285.84" class="yl">40</text>
<line x1="220.4" y1="255.26" x2="224.4" y2="255.26" class="tk"/>
<text x="219.20000000000002" y="259.46" class="yl">60</text>
<line x1="220.4" y1="228.88" x2="224.4" y2="228.88" class="tk"/>
<text x="219.20000000000002" y="233.08" class="yl">80</text>
<line x1="220.4" y1="202.50" x2="224.4" y2="202.50" class="tk"/>
<text x="219.20000000000002" y="206.70" class="yl">100</text>
<line x1="221.9" y1="321.21" x2="224.4" y2="321.21" class="tk"/>
<line x1="221.9" y1="294.83" x2="224.4" y2="294.83" class="tk"/>
<line x1="221.9" y1="268.45" x2="224.4" y2="268.45" class="tk"/>
<line x1="221.9" y1="242.07" x2="224.4" y2="242.07" class="tk"/>
<line x1="221.9" y1="215.69" x2="224.4" y2="215.69" class="tk"/>
<line x1="229.30" y1="334.4" x2="229.30" y2="338.4" class="tk"/>
<line x1="238.78" y1="334.4" x2="238.78" y2="336.9" class="tk"/>
<line x1="248.26" y1="334.4" x2="248.26" y2="338.4" class="tk"/>
<line x1="257.74" y1="334.4" x2="257.74" y2="336.9" class="tk"/>
<line x1="267.22" y1="334.4" x2="267.22" y2="338.4" class="tk"/>
<line x1="276.70" y1="334.4" x2="276.70" y2="336.9" class="tk"/>
<line x1="286.18" y1="334.4" x2="286.18" y2="338.4" class="tk"/>
<line x1="295.66" y1="334.4" x2="295.66" y2="336.9" class="tk"/>
<line x1="305.14" y1="334.4" x2="305.14" y2="338.4" class="tk"/>
<line x1="314.62" y1="334.4" x2="314.62" y2="336.9" class="tk"/>
<line x1="324.10" y1="334.4" x2="324.10" y2="338.4" class="tk"/>
<line x1="333.58" y1="334.4" x2="333.58" y2="336.9" class="tk"/>
<line x1="343.06" y1="334.4" x2="343.06" y2="338.4" class="tk"/>
<line x1="352.54" y1="334.4" x2="352.54" y2="336.9" class="tk"/>
<text x="0" y="0" class="xl" transform="translate(232.40 346.50) rotate(-45)">(Donor) 0</text>
<text x="0" y="0" class="xl" transform="translate(251.36 346.50) rotate(-45)">4</text>
<text x="0" y="0" class="xl" transform="translate(270.32 346.50) rotate(-45)">8</text>
<text x="0" y="0" class="xl" transform="translate(289.28 346.50) rotate(-45)">12</text>
<text x="0" y="0" class="xl" transform="translate(308.24 346.50) rotate(-45)">16</text>
<text x="0" y="0" class="xl" transform="translate(327.20 346.50) rotate(-45)">20</text>
<text x="0" y="0" class="xl" transform="translate(346.16 346.50) rotate(-45)">24</text>
<polyline points="229.30,269.64 238.78,227.03 248.26,235.74 267.22,250.51 286.18,258.03 352.54,267.92" fill="none" stroke="#111" stroke-width="1.6" stroke-linejoin="round"/>
<line x1="229.30" y1="263.83" x2="229.30" y2="276.36" stroke="#111" stroke-width="1.4"/>
<line x1="226.10" y1="263.83" x2="232.50" y2="263.83" stroke="#111" stroke-width="1.4"/>
<line x1="226.10" y1="276.36" x2="232.50" y2="276.36" stroke="#111" stroke-width="1.4"/>
<polygon points="226.10,266.84 232.50,266.84 229.30,272.94" fill="#111"/>
<line x1="238.78" y1="218.33" x2="238.78" y2="235.08" stroke="#111" stroke-width="1.4"/>
<line x1="235.58" y1="218.33" x2="241.98" y2="218.33" stroke="#111" stroke-width="1.4"/>
<line x1="235.58" y1="235.08" x2="241.98" y2="235.08" stroke="#111" stroke-width="1.4"/>
<polygon points="235.58,224.23 241.98,224.23 238.78,230.33" fill="#111"/>
<line x1="248.26" y1="231.25" x2="248.26" y2="240.09" stroke="#111" stroke-width="1.4"/>
<line x1="245.06" y1="231.25" x2="251.46" y2="231.25" stroke="#111" stroke-width="1.4"/>
<line x1="245.06" y1="240.09" x2="251.46" y2="240.09" stroke="#111" stroke-width="1.4"/>
<polygon points="245.06,232.94 251.46,232.94 248.26,239.04" fill="#111"/>
<line x1="267.22" y1="245.10" x2="267.22" y2="255.13" stroke="#111" stroke-width="1.4"/>
<line x1="264.02" y1="245.10" x2="270.42" y2="245.10" stroke="#111" stroke-width="1.4"/>
<line x1="264.02" y1="255.13" x2="270.42" y2="255.13" stroke="#111" stroke-width="1.4"/>
<polygon points="264.02,247.71 270.42,247.71 267.22,253.81" fill="#111"/>
<line x1="286.18" y1="251.57" x2="286.18" y2="263.83" stroke="#111" stroke-width="1.4"/>
<line x1="282.98" y1="251.57" x2="289.38" y2="251.57" stroke="#111" stroke-width="1.4"/>
<line x1="282.98" y1="263.83" x2="289.38" y2="263.83" stroke="#111" stroke-width="1.4"/>
<polygon points="282.98,255.23 289.38,255.23 286.18,261.33" fill="#111"/>
<line x1="352.54" y1="261.86" x2="352.54" y2="273.33" stroke="#111" stroke-width="1.4"/>
<line x1="349.34" y1="261.86" x2="355.74" y2="261.86" stroke="#111" stroke-width="1.4"/>
<line x1="349.34" y1="273.33" x2="355.74" y2="273.33" stroke="#111" stroke-width="1.4"/>
<polygon points="349.34,265.12 355.74,265.12 352.54,271.22" fill="#111"/>
<path d="M228.60 206.70V214.60M228.60 210.50H238.18M238.18 206.70V214.60" stroke="#151515" stroke-width="1.5" fill="none"/>
<text x="233.39" y="213.10" class="st">*</text>
<text x="0" y="0" class="at" transform="translate(14.7 501.3) rotate(-90) scale(1.085 1)" text-anchor="middle"><tspan>Percent of CD56</tspan><tspan class="sup" dy="-3.6">dim</tspan><tspan dy="3.6"> NK cells</tspan></text>
<text x="69.89999999999999" y="425.8" class="bt">0 KIR</text>
<line x1="52.00" y1="485.87" x2="52.00" y2="490.82" stroke="#111" stroke-width="1.3"/>
<line x1="49.40" y1="485.87" x2="54.60" y2="485.87" stroke="#111" stroke-width="1.3"/>
<rect x="47.60" y="490.82" width="8.8" height="54.78" fill="#fff" stroke="#111" stroke-width="1.4"/>
<line x1="66.65" y1="464.09" x2="66.65" y2="467.83" stroke="#111" stroke-width="1.3"/>
<line x1="64.05" y1="464.09" x2="69.25" y2="464.09" stroke="#111" stroke-width="1.3"/>
<rect x="62.25" y="467.83" width="8.8" height="77.77" fill="#fff" stroke="#111" stroke-width="1.4"/>
<line x1="81.30" y1="469.26" x2="81.30" y2="477.18" stroke="#111" stroke-width="1.3"/>
<line x1="78.70" y1="469.26" x2="83.90" y2="469.26" stroke="#111" stroke-width="1.3"/>
<rect x="76.90" y="477.18" width="8.8" height="68.42" fill="#fff" stroke="#111" stroke-width="1.4"/>
<line x1="95.95" y1="477.73" x2="95.95" y2="482.68" stroke="#111" stroke-width="1.3"/>
<line x1="93.35" y1="477.73" x2="98.55" y2="477.73" stroke="#111" stroke-width="1.3"/>
<rect x="91.55" y="482.68" width="8.8" height="62.92" fill="#fff" stroke="#111" stroke-width="1.4"/>
<line x1="110.60" y1="485.10" x2="110.60" y2="489.61" stroke="#111" stroke-width="1.3"/>
<line x1="108.00" y1="485.10" x2="113.20" y2="485.10" stroke="#111" stroke-width="1.3"/>
<rect x="106.20" y="489.61" width="8.8" height="55.99" fill="#fff" stroke="#111" stroke-width="1.4"/>
<line x1="125.25" y1="489.61" x2="125.25" y2="495.33" stroke="#111" stroke-width="1.3"/>
<line x1="122.65" y1="489.61" x2="127.85" y2="489.61" stroke="#111" stroke-width="1.3"/>
<rect x="120.85" y="495.33" width="8.8" height="50.27" fill="#fff" stroke="#111" stroke-width="1.4"/>
<line x1="45.2" y1="456.90" x2="45.2" y2="546.35" class="ax"/>
<line x1="44.45" y1="545.6" x2="133.2" y2="545.6" class="ax"/>
<line x1="41.2" y1="545.60" x2="45.2" y2="545.60" class="tk"/>
<text x="40.0" y="549.80" class="yl">0</text>
<line x1="41.2" y1="523.60" x2="45.2" y2="523.60" class="tk"/>
<text x="40.0" y="527.80" class="yl">20</text>
<line x1="41.2" y1="501.60" x2="45.2" y2="501.60" class="tk"/>
<text x="40.0" y="505.80" class="yl">40</text>
<line x1="41.2" y1="479.60" x2="45.2" y2="479.60" class="tk"/>
<text x="40.0" y="483.80" class="yl">60</text>
<line x1="41.2" y1="457.60" x2="45.2" y2="457.60" class="tk"/>
<text x="40.0" y="461.80" class="yl">80</text>
<line x1="42.7" y1="534.60" x2="45.2" y2="534.60" class="tk"/>
<line x1="42.7" y1="512.60" x2="45.2" y2="512.60" class="tk"/>
<line x1="42.7" y1="490.60" x2="45.2" y2="490.60" class="tk"/>
<line x1="42.7" y1="468.60" x2="45.2" y2="468.60" class="tk"/>
<line x1="52.00" y1="545.6" x2="52.00" y2="549.1" class="tk"/>
<text x="0" y="0" class="xl" transform="translate(54.00 557.20) rotate(-45)">(Donor) 0</text>
<line x1="66.65" y1="545.6" x2="66.65" y2="549.1" class="tk"/>
<text x="0" y="0" class="xl" transform="translate(68.65 557.20) rotate(-45)">2</text>
<line x1="81.30" y1="545.6" x2="81.30" y2="549.1" class="tk"/>
<text x="0" y="0" class="xl" transform="translate(83.30 557.20) rotate(-45)">4</text>
<line x1="95.95" y1="545.6" x2="95.95" y2="549.1" class="tk"/>
<text x="0" y="0" class="xl" transform="translate(97.95 557.20) rotate(-45)">8</text>
<line x1="110.60" y1="545.6" x2="110.60" y2="549.1" class="tk"/>
<text x="0" y="0" class="xl" transform="translate(112.60 557.20) rotate(-45)">12</text>
<line x1="125.25" y1="545.6" x2="125.25" y2="549.1" class="tk"/>
<text x="0" y="0" class="xl" transform="translate(127.25 557.20) rotate(-45)">26</text>
<path d="M52.00 452.20V459.40M52.00 455.80H66.65M66.65 452.20V459.40" stroke="#151515" stroke-width="1.5" fill="none"/>
<text x="59.33" y="456.40" class="st">*</text>
<text x="195.7" y="425.8" class="bt">1 KIR</text>
<line x1="177.40" y1="482.53" x2="177.40" y2="488.69" stroke="#111" stroke-width="1.3"/>
<line x1="174.80" y1="482.53" x2="180.00" y2="482.53" stroke="#111" stroke-width="1.3"/>
<rect x="173.00" y="488.69" width="8.8" height="56.91" fill="#fff" stroke="#111" stroke-width="1.4"/>
<line x1="192.05" y1="504.97" x2="192.05" y2="509.37" stroke="#111" stroke-width="1.3"/>
<line x1="189.45" y1="504.97" x2="194.65" y2="504.97" stroke="#111" stroke-width="1.3"/>
<rect x="187.65" y="509.37" width="8.8" height="36.23" fill="#fff" stroke="#111" stroke-width="1.4"/>
<line x1="206.70" y1="495.00" x2="206.70" y2="501.75" stroke="#111" stroke-width="1.3"/>
<line x1="204.10" y1="495.00" x2="209.30" y2="495.00" stroke="#111" stroke-width="1.3"/>
<rect x="202.30" y="501.75" width="8.8" height="43.85" fill="#fff" stroke="#111" stroke-width="1.4"/>
<line x1="221.35" y1="490.01" x2="221.35" y2="495.73" stroke="#111" stroke-width="1.3"/>
<line x1="218.75" y1="490.01" x2="223.95" y2="490.01" stroke="#111" stroke-width="1.3"/>
<rect x="216.95" y="495.73" width="8.8" height="49.87" fill="#fff" stroke="#111" stroke-width="1.4"/>
<line x1="236.00" y1="485.03" x2="236.00" y2="488.69" stroke="#111" stroke-width="1.3"/>
<line x1="233.40" y1="485.03" x2="238.60" y2="485.03" stroke="#111" stroke-width="1.3"/>
<rect x="231.60" y="488.69" width="8.8" height="56.91" fill="#fff" stroke="#111" stroke-width="1.4"/>
<line x1="250.65" y1="480.48" x2="250.65" y2="487.52" stroke="#111" stroke-width="1.3"/>
<line x1="248.05" y1="480.48" x2="253.25" y2="480.48" stroke="#111" stroke-width="1.3"/>
<rect x="246.25" y="487.52" width="8.8" height="58.08" fill="#fff" stroke="#111" stroke-width="1.4"/>
<line x1="170.6" y1="456.90" x2="170.6" y2="546.35" class="ax"/>
<line x1="169.85" y1="545.6" x2="258.6" y2="545.6" class="ax"/>
<line x1="166.6" y1="545.60" x2="170.6" y2="545.60" class="tk"/>
<text x="165.4" y="549.80" class="yl">0</text>
<line x1="166.6" y1="516.27" x2="170.6" y2="516.27" class="tk"/>
<text x="165.4" y="520.47" class="yl">20</text>
<line x1="166.6" y1="486.93" x2="170.6" y2="486.93" class="tk"/>
<text x="165.4" y="491.13" class="yl">40</text>
<line x1="166.6" y1="457.60" x2="170.6" y2="457.60" class="tk"/>
<text x="165.4" y="461.80" class="yl">60</text>
<line x1="168.1" y1="530.93" x2="170.6" y2="530.93" class="tk"/>
<line x1="168.1" y1="501.60" x2="170.6" y2="501.60" class="tk"/>
<line x1="168.1" y1="472.27" x2="170.6" y2="472.27" class="tk"/>
<line x1="177.40" y1="545.6" x2="177.40" y2="549.1" class="tk"/>
<text x="0" y="0" class="xl" transform="translate(179.40 557.20) rotate(-45)">(Donor) 0</text>
<line x1="192.05" y1="545.6" x2="192.05" y2="549.1" class="tk"/>
<text x="0" y="0" class="xl" transform="translate(194.05 557.20) rotate(-45)">2</text>
<line x1="206.70" y1="545.6" x2="206.70" y2="549.1" class="tk"/>
<text x="0" y="0" class="xl" transform="translate(208.70 557.20) rotate(-45)">4</text>
<line x1="221.35" y1="545.6" x2="221.35" y2="549.1" class="tk"/>
<text x="0" y="0" class="xl" transform="translate(223.35 557.20) rotate(-45)">8</text>
<line x1="236.00" y1="545.6" x2="236.00" y2="549.1" class="tk"/>
<text x="0" y="0" class="xl" transform="translate(238.00 557.20) rotate(-45)">12</text>
<line x1="250.65" y1="545.6" x2="250.65" y2="549.1" class="tk"/>
<text x="0" y="0" class="xl" transform="translate(252.65 557.20) rotate(-45)">26</text>
<path d="M177.40 437.20V444.40M177.40 440.80H192.05M192.05 437.20V444.40" stroke="#151515" stroke-width="1.5" fill="none"/>
<text x="184.73" y="441.40" class="st">*</text>
<path d="M177.40 452.70V459.90M177.40 456.30H206.70M206.70 452.70V459.90" stroke="#151515" stroke-width="1.5" fill="none"/>
<text x="192.05" y="456.90" class="st">*</text>
<text x="318.70000000000005" y="425.8" class="bt">2 KIRs</text>
<line x1="304.10" y1="490.16" x2="304.10" y2="496.76" stroke="#111" stroke-width="1.3"/>
<line x1="301.50" y1="490.16" x2="306.70" y2="490.16" stroke="#111" stroke-width="1.3"/>
<rect x="299.70" y="496.76" width="8.8" height="48.84" fill="#fff" stroke="#111" stroke-width="1.4"/>
<line x1="318.75" y1="517.00" x2="318.75" y2="522.28" stroke="#111" stroke-width="1.3"/>
<line x1="316.15" y1="517.00" x2="321.35" y2="517.00" stroke="#111" stroke-width="1.3"/>
<rect x="314.35" y="522.28" width="8.8" height="23.32" fill="#fff" stroke="#111" stroke-width="1.4"/>
<line x1="333.40" y1="502.04" x2="333.40" y2="511.28" stroke="#111" stroke-width="1.3"/>
<line x1="330.80" y1="502.04" x2="336.00" y2="502.04" stroke="#111" stroke-width="1.3"/>
<rect x="329.00" y="511.28" width="8.8" height="34.32" fill="#fff" stroke="#111" stroke-width="1.4"/>
<line x1="348.05" y1="501.16" x2="348.05" y2="506.22" stroke="#111" stroke-width="1.3"/>
<line x1="345.45" y1="501.16" x2="350.65" y2="501.16" stroke="#111" stroke-width="1.3"/>
<rect x="343.65" y="506.22" width="8.8" height="39.38" fill="#fff" stroke="#111" stroke-width="1.4"/>
<line x1="362.70" y1="493.68" x2="362.70" y2="501.60" stroke="#111" stroke-width="1.3"/>
<line x1="360.10" y1="493.68" x2="365.30" y2="493.68" stroke="#111" stroke-width="1.3"/>
<rect x="358.30" y="501.60" width="8.8" height="44.00" fill="#fff" stroke="#111" stroke-width="1.4"/>
<line x1="377.35" y1="462.44" x2="377.35" y2="482.24" stroke="#111" stroke-width="1.3"/>
<line x1="374.75" y1="462.44" x2="379.95" y2="462.44" stroke="#111" stroke-width="1.3"/>
<rect x="372.95" y="482.24" width="8.8" height="63.36" fill="#fff" stroke="#111" stroke-width="1.4"/>
<line x1="297.3" y1="456.90" x2="297.3" y2="546.35" class="ax"/>
<line x1="296.55" y1="545.6" x2="385.3" y2="545.6" class="ax"/>
<line x1="293.3" y1="545.60" x2="297.3" y2="545.60" class="tk"/>
<text x="292.1" y="549.80" class="yl">0</text>
<line x1="293.3" y1="523.60" x2="297.3" y2="523.60" class="tk"/>
<text x="292.1" y="527.80" class="yl">5</text>
<line x1="293.3" y1="501.60" x2="297.3" y2="501.60" class="tk"/>
<text x="292.1" y="505.80" class="yl">10</text>
<line x1="293.3" y1="479.60" x2="297.3" y2="479.60" class="tk"/>
<text x="292.1" y="483.80" class="yl">15</text>
<line x1="293.3" y1="457.60" x2="297.3" y2="457.60" class="tk"/>
<text x="292.1" y="461.80" class="yl">20</text>
<line x1="304.10" y1="545.6" x2="304.10" y2="549.1" class="tk"/>
<text x="0" y="0" class="xl" transform="translate(306.10 557.20) rotate(-45)">(Donor) 0</text>
<line x1="318.75" y1="545.6" x2="318.75" y2="549.1" class="tk"/>
<text x="0" y="0" class="xl" transform="translate(320.75 557.20) rotate(-45)">2</text>
<line x1="333.40" y1="545.6" x2="333.40" y2="549.1" class="tk"/>
<text x="0" y="0" class="xl" transform="translate(335.40 557.20) rotate(-45)">4</text>
<line x1="348.05" y1="545.6" x2="348.05" y2="549.1" class="tk"/>
<text x="0" y="0" class="xl" transform="translate(350.05 557.20) rotate(-45)">8</text>
<line x1="362.70" y1="545.6" x2="362.70" y2="549.1" class="tk"/>
<text x="0" y="0" class="xl" transform="translate(364.70 557.20) rotate(-45)">12</text>
<line x1="377.35" y1="545.6" x2="377.35" y2="549.1" class="tk"/>
<text x="0" y="0" class="xl" transform="translate(379.35 557.20) rotate(-45)">26</text>
<path d="M304.10 437.20V444.40M304.10 440.80H318.75M318.75 437.20V444.40" stroke="#151515" stroke-width="1.5" fill="none"/>
<text x="311.43" y="441.40" class="st">**</text>
<path d="M304.10 453.20V460.40M304.10 456.80H333.40M333.40 453.20V460.40" stroke="#151515" stroke-width="1.5" fill="none"/>
<text x="318.75" y="457.40" class="st">*</text>
<text x="441.90000000000003" y="425.8" class="bt">3 KIRs</text>
<line x1="430.80" y1="475.64" x2="430.80" y2="488.40" stroke="#111" stroke-width="1.3"/>
<line x1="428.20" y1="475.64" x2="433.40" y2="475.64" stroke="#111" stroke-width="1.3"/>
<rect x="426.40" y="488.40" width="8.8" height="57.20" fill="#fff" stroke="#111" stroke-width="1.4"/>
<line x1="445.45" y1="513.04" x2="445.45" y2="520.96" stroke="#111" stroke-width="1.3"/>
<line x1="442.85" y1="513.04" x2="448.05" y2="513.04" stroke="#111" stroke-width="1.3"/>
<rect x="441.05" y="520.96" width="8.8" height="24.64" fill="#fff" stroke="#111" stroke-width="1.4"/>
<line x1="460.10" y1="491.04" x2="460.10" y2="506.44" stroke="#111" stroke-width="1.3"/>
<line x1="457.50" y1="491.04" x2="462.70" y2="491.04" stroke="#111" stroke-width="1.3"/>
<rect x="455.70" y="506.44" width="8.8" height="39.16" fill="#fff" stroke="#111" stroke-width="1.4"/>
<line x1="474.75" y1="499.84" x2="474.75" y2="506.44" stroke="#111" stroke-width="1.3"/>
<line x1="472.15" y1="499.84" x2="477.35" y2="499.84" stroke="#111" stroke-width="1.3"/>
<rect x="470.35" y="506.44" width="8.8" height="39.16" fill="#fff" stroke="#111" stroke-width="1.4"/>
<line x1="489.40" y1="489.72" x2="489.40" y2="501.60" stroke="#111" stroke-width="1.3"/>
<line x1="486.80" y1="489.72" x2="492.00" y2="489.72" stroke="#111" stroke-width="1.3"/>
<rect x="485.00" y="501.60" width="8.8" height="44.00" fill="#fff" stroke="#111" stroke-width="1.4"/>
<line x1="504.05" y1="474.76" x2="504.05" y2="493.24" stroke="#111" stroke-width="1.3"/>
<line x1="501.45" y1="474.76" x2="506.65" y2="474.76" stroke="#111" stroke-width="1.3"/>
<rect x="499.65" y="493.24" width="8.8" height="52.36" fill="#fff" stroke="#111" stroke-width="1.4"/>
<line x1="424.0" y1="456.90" x2="424.0" y2="546.35" class="ax"/>
<line x1="423.25" y1="545.6" x2="512.0" y2="545.6" class="ax"/>
<line x1="420.0" y1="545.60" x2="424.0" y2="545.60" class="tk"/>
<text x="418.8" y="549.80" class="yl">0</text>
<line x1="420.0" y1="501.60" x2="424.0" y2="501.60" class="tk"/>
<text x="418.8" y="505.80" class="yl">1</text>
<line x1="420.0" y1="457.60" x2="424.0" y2="457.60" class="tk"/>
<text x="418.8" y="461.80" class="yl">2</text>
<line x1="430.80" y1="545.6" x2="430.80" y2="549.1" class="tk"/>
<text x="0" y="0" class="xl" transform="translate(432.80 557.20) rotate(-45)">(Donor) 0</text>
<line x1="445.45" y1="545.6" x2="445.45" y2="549.1" class="tk"/>
<text x="0" y="0" class="xl" transform="translate(447.45 557.20) rotate(-45)">2</text>
<line x1="460.10" y1="545.6" x2="460.10" y2="549.1" class="tk"/>
<text x="0" y="0" class="xl" transform="translate(462.10 557.20) rotate(-45)">4</text>
<line x1="474.75" y1="545.6" x2="474.75" y2="549.1" class="tk"/>
<text x="0" y="0" class="xl" transform="translate(476.75 557.20) rotate(-45)">8</text>
<line x1="489.40" y1="545.6" x2="489.40" y2="549.1" class="tk"/>
<text x="0" y="0" class="xl" transform="translate(491.40 557.20) rotate(-45)">12</text>
<line x1="504.05" y1="545.6" x2="504.05" y2="549.1" class="tk"/>
<text x="0" y="0" class="xl" transform="translate(506.05 557.20) rotate(-45)">26</text>
<path d="M430.80 453.20V460.40M430.80 456.80H460.10M460.10 453.20V460.40" stroke="#151515" stroke-width="1.5" fill="none"/>
<text x="445.45" y="457.40" class="st">*</text>
<line x1="32" y1="603.3" x2="502" y2="603.3" stroke="#111" stroke-width="1.8"/>
<polygon points="501.3,600.6 501.3,606.1 511.4,603.3" fill="#111"/>
<text x="198.2" y="630.3" class="at2" textLength="148.5" lengthAdjust="spacingAndGlyphs">Weeks after transplantation</text>
</svg>
</body></html>
